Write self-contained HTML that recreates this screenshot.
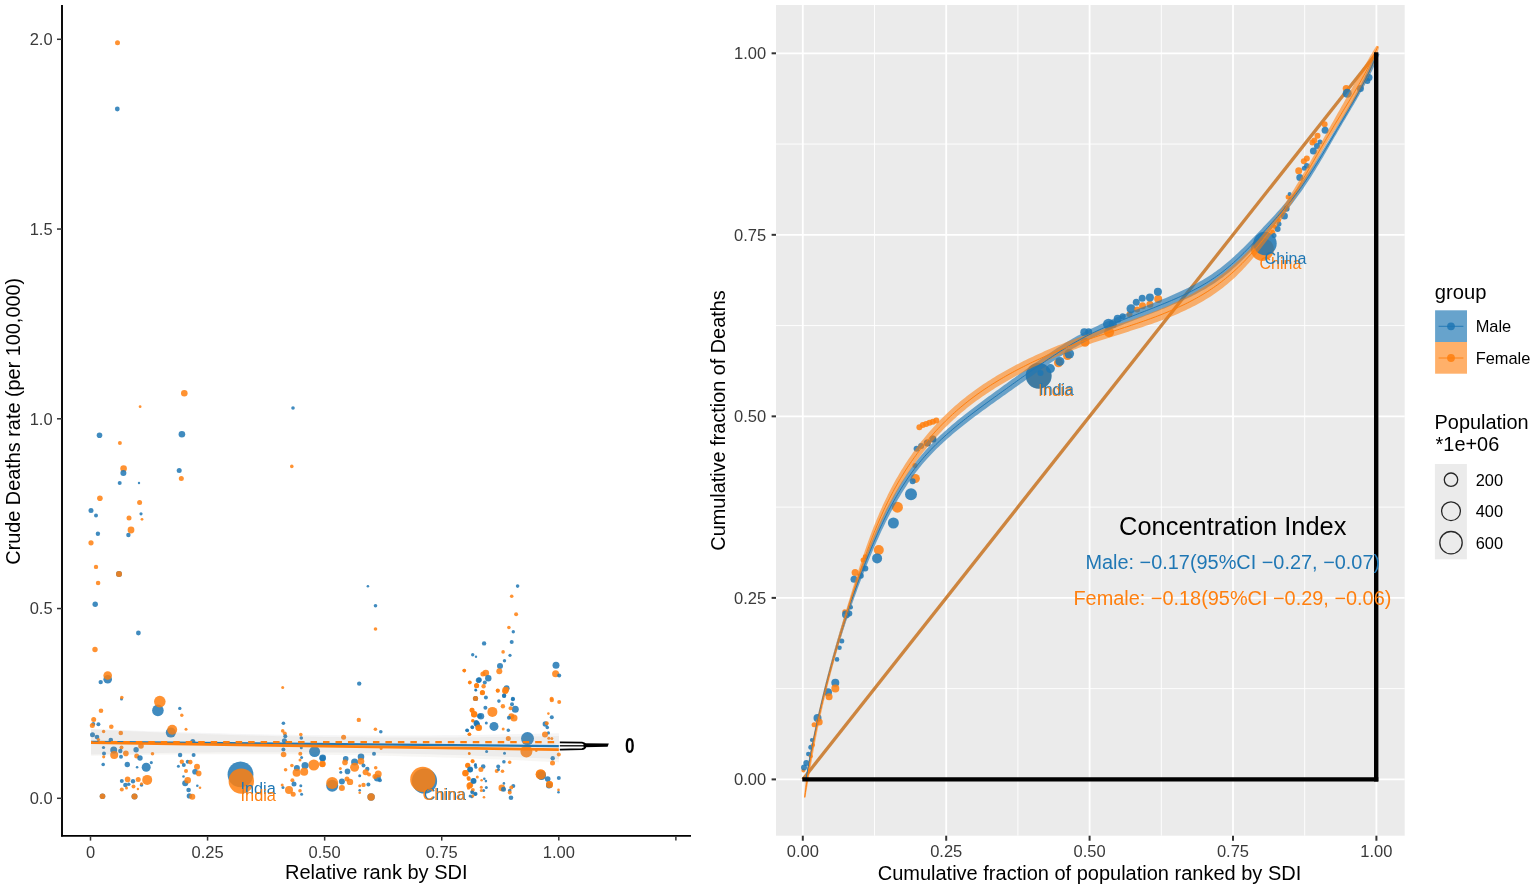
<!DOCTYPE html>
<html><head><meta charset="utf-8"><title>Concentration Index Plot</title>
<style>html,body{margin:0;padding:0;background:#fff;} svg{display:block;}</style>
</head><body>
<svg width="1535" height="889" viewBox="0 0 1535 889">
<rect x="0" y="0" width="1535" height="889" fill="#ffffff"/>
<circle cx="117.5" cy="42.7" r="2.5" fill="#ff7f0e" fill-opacity="0.85"/>
<circle cx="117.3" cy="109" r="2.4" fill="#1f77b4" fill-opacity="0.85"/>
<circle cx="184.3" cy="393.2" r="3.3" fill="#ff7f0e" fill-opacity="0.85"/>
<circle cx="140.1" cy="406.7" r="1.4" fill="#ff7f0e" fill-opacity="0.85"/>
<circle cx="293" cy="408" r="1.8" fill="#1f77b4" fill-opacity="0.85"/>
<circle cx="99.5" cy="435.3" r="2.8" fill="#1f77b4" fill-opacity="0.85"/>
<circle cx="181.9" cy="434.3" r="3.3" fill="#1f77b4" fill-opacity="0.85"/>
<circle cx="119.9" cy="443" r="2" fill="#ff7f0e" fill-opacity="0.85"/>
<circle cx="123.6" cy="468.5" r="3.3" fill="#ff7f0e" fill-opacity="0.85"/>
<circle cx="123.4" cy="473.1" r="3" fill="#1f77b4" fill-opacity="0.85"/>
<circle cx="179.2" cy="470.5" r="2.5" fill="#1f77b4" fill-opacity="0.85"/>
<circle cx="181.3" cy="478.4" r="2.5" fill="#ff7f0e" fill-opacity="0.85"/>
<circle cx="119.7" cy="483" r="2" fill="#1f77b4" fill-opacity="0.85"/>
<circle cx="139" cy="483" r="1.2" fill="#1f77b4" fill-opacity="0.85"/>
<circle cx="291.8" cy="466.4" r="1.8" fill="#ff7f0e" fill-opacity="0.85"/>
<circle cx="99.9" cy="498.2" r="2.8" fill="#ff7f0e" fill-opacity="0.85"/>
<circle cx="139.6" cy="502.5" r="2.5" fill="#ff7f0e" fill-opacity="0.85"/>
<circle cx="91" cy="510.4" r="2.5" fill="#1f77b4" fill-opacity="0.85"/>
<circle cx="96" cy="515.4" r="2" fill="#1f77b4" fill-opacity="0.85"/>
<circle cx="141" cy="513.8" r="1.6" fill="#1f77b4" fill-opacity="0.85"/>
<circle cx="129" cy="517.9" r="2.5" fill="#ff7f0e" fill-opacity="0.85"/>
<circle cx="142" cy="519.3" r="1.4" fill="#ff7f0e" fill-opacity="0.85"/>
<circle cx="128.4" cy="535" r="2.2" fill="#1f77b4" fill-opacity="0.85"/>
<circle cx="131" cy="530" r="3.4" fill="#ff7f0e" fill-opacity="0.85"/>
<circle cx="97.9" cy="533.8" r="2.2" fill="#1f77b4" fill-opacity="0.85"/>
<circle cx="91" cy="542.8" r="2.6" fill="#ff7f0e" fill-opacity="0.85"/>
<circle cx="96" cy="566.9" r="2.2" fill="#ff7f0e" fill-opacity="0.85"/>
<circle cx="119" cy="573.9" r="3" fill="#1f77b4" fill-opacity="0.85"/>
<circle cx="119" cy="573.9" r="3" fill="#ff7f0e" fill-opacity="0.85"/>
<circle cx="98.1" cy="583" r="2.3" fill="#ff7f0e" fill-opacity="0.85"/>
<circle cx="95.2" cy="604.2" r="2.7" fill="#1f77b4" fill-opacity="0.85"/>
<circle cx="138.4" cy="633" r="2.4" fill="#1f77b4" fill-opacity="0.85"/>
<circle cx="95" cy="649.5" r="2.7" fill="#ff7f0e" fill-opacity="0.85"/>
<circle cx="107.7" cy="679.2" r="4.3" fill="#1f77b4" fill-opacity="0.85"/>
<circle cx="107.7" cy="675.5" r="4.3" fill="#ff7f0e" fill-opacity="0.85"/>
<circle cx="100.7" cy="682.1" r="2.2" fill="#1f77b4" fill-opacity="0.85"/>
<circle cx="367.9" cy="586.2" r="1.3" fill="#1f77b4" fill-opacity="0.85"/>
<circle cx="375.5" cy="605.7" r="1.8" fill="#1f77b4" fill-opacity="0.85"/>
<circle cx="375.5" cy="629" r="1.8" fill="#ff7f0e" fill-opacity="0.85"/>
<circle cx="121.5" cy="699" r="1.5" fill="#1f77b4" fill-opacity="0.85"/>
<circle cx="121.8" cy="697.5" r="1.8" fill="#ff7f0e" fill-opacity="0.85"/>
<circle cx="157.9" cy="710.4" r="5.8" fill="#1f77b4" fill-opacity="0.85"/>
<circle cx="159.8" cy="701.6" r="5.8" fill="#ff7f0e" fill-opacity="0.85"/>
<circle cx="101" cy="710.7" r="2.3" fill="#ff7f0e" fill-opacity="0.85"/>
<circle cx="93.7" cy="719.5" r="2.5" fill="#ff7f0e" fill-opacity="0.85"/>
<circle cx="93.3" cy="723.9" r="2" fill="#1f77b4" fill-opacity="0.85"/>
<circle cx="92.3" cy="725.6" r="2.5" fill="#ff7f0e" fill-opacity="0.85"/>
<circle cx="98.4" cy="724.3" r="2" fill="#1f77b4" fill-opacity="0.85"/>
<circle cx="111.3" cy="726.8" r="2.3" fill="#ff7f0e" fill-opacity="0.85"/>
<circle cx="103.6" cy="731.5" r="1.7" fill="#ff7f0e" fill-opacity="0.85"/>
<circle cx="120.8" cy="733" r="2.3" fill="#ff7f0e" fill-opacity="0.85"/>
<circle cx="170.8" cy="732.6" r="5" fill="#1f77b4" fill-opacity="0.85"/>
<circle cx="172.2" cy="729.7" r="5" fill="#ff7f0e" fill-opacity="0.85"/>
<circle cx="92.5" cy="734.8" r="2.5" fill="#1f77b4" fill-opacity="0.85"/>
<circle cx="97" cy="737" r="2.3" fill="#1f77b4" fill-opacity="0.85"/>
<circle cx="98.4" cy="739.6" r="1.7" fill="#ff7f0e" fill-opacity="0.85"/>
<circle cx="110.8" cy="740" r="2.3" fill="#1f77b4" fill-opacity="0.85"/>
<circle cx="141" cy="746" r="2.8" fill="#ff7f0e" fill-opacity="0.85"/>
<circle cx="103.5" cy="747.5" r="1.6" fill="#1f77b4" fill-opacity="0.85"/>
<circle cx="113.7" cy="749.9" r="3.5" fill="#1f77b4" fill-opacity="0.85"/>
<circle cx="114.2" cy="754.9" r="4" fill="#ff7f0e" fill-opacity="0.85"/>
<circle cx="121.5" cy="747.5" r="2" fill="#ff7f0e" fill-opacity="0.85"/>
<circle cx="120.3" cy="751" r="2.2" fill="#1f77b4" fill-opacity="0.85"/>
<circle cx="125.9" cy="753.4" r="2.8" fill="#ff7f0e" fill-opacity="0.85"/>
<circle cx="136.1" cy="749.7" r="2.7" fill="#1f77b4" fill-opacity="0.85"/>
<circle cx="104" cy="753.4" r="2" fill="#1f77b4" fill-opacity="0.85"/>
<circle cx="103.7" cy="756.8" r="1.6" fill="#ff7f0e" fill-opacity="0.85"/>
<circle cx="152.5" cy="753.8" r="1.8" fill="#ff7f0e" fill-opacity="0.85"/>
<circle cx="136.7" cy="756" r="2.5" fill="#ff7f0e" fill-opacity="0.85"/>
<circle cx="140" cy="758" r="2.7" fill="#1f77b4" fill-opacity="0.85"/>
<circle cx="121" cy="756.8" r="2" fill="#1f77b4" fill-opacity="0.85"/>
<circle cx="103.2" cy="764.5" r="1.8" fill="#1f77b4" fill-opacity="0.85"/>
<circle cx="127.3" cy="764.5" r="2.7" fill="#1f77b4" fill-opacity="0.85"/>
<circle cx="137.1" cy="767.3" r="1.3" fill="#1f77b4" fill-opacity="0.85"/>
<circle cx="146.2" cy="767.3" r="4.5" fill="#1f77b4" fill-opacity="0.85"/>
<circle cx="151.3" cy="762.6" r="1.6" fill="#1f77b4" fill-opacity="0.85"/>
<circle cx="147.2" cy="779.9" r="5" fill="#ff7f0e" fill-opacity="0.85"/>
<circle cx="127.6" cy="779.4" r="2.8" fill="#ff7f0e" fill-opacity="0.85"/>
<circle cx="121.8" cy="780.9" r="2" fill="#1f77b4" fill-opacity="0.85"/>
<circle cx="133" cy="781.3" r="2.2" fill="#1f77b4" fill-opacity="0.85"/>
<circle cx="138.2" cy="779.4" r="2.5" fill="#ff7f0e" fill-opacity="0.85"/>
<circle cx="125.4" cy="785" r="2.3" fill="#1f77b4" fill-opacity="0.85"/>
<circle cx="128.8" cy="784.2" r="1.7" fill="#1f77b4" fill-opacity="0.85"/>
<circle cx="133.5" cy="786.4" r="2" fill="#ff7f0e" fill-opacity="0.85"/>
<circle cx="141.5" cy="785" r="1.8" fill="#1f77b4" fill-opacity="0.85"/>
<circle cx="141.5" cy="783.8" r="1.5" fill="#ff7f0e" fill-opacity="0.85"/>
<circle cx="121.8" cy="789.4" r="2" fill="#ff7f0e" fill-opacity="0.85"/>
<circle cx="126.5" cy="787.9" r="1.5" fill="#ff7f0e" fill-opacity="0.85"/>
<circle cx="137.9" cy="789" r="1.2" fill="#ff7f0e" fill-opacity="0.85"/>
<circle cx="102.5" cy="796.2" r="2.8" fill="#1f77b4" fill-opacity="0.85"/>
<circle cx="102.5" cy="796.2" r="2.8" fill="#ff7f0e" fill-opacity="0.85"/>
<circle cx="134.5" cy="796.5" r="3" fill="#1f77b4" fill-opacity="0.85"/>
<circle cx="134.5" cy="796.5" r="3" fill="#ff7f0e" fill-opacity="0.85"/>
<circle cx="179.8" cy="708.4" r="1.7" fill="#1f77b4" fill-opacity="0.85"/>
<circle cx="181.8" cy="715.2" r="1.7" fill="#ff7f0e" fill-opacity="0.85"/>
<circle cx="186" cy="729.2" r="1.5" fill="#ff7f0e" fill-opacity="0.85"/>
<circle cx="192.8" cy="741.5" r="2.5" fill="#1f77b4" fill-opacity="0.85"/>
<circle cx="180.1" cy="755" r="2.2" fill="#1f77b4" fill-opacity="0.85"/>
<circle cx="193.6" cy="754.9" r="2" fill="#1f77b4" fill-opacity="0.85"/>
<circle cx="181.8" cy="761.8" r="2.2" fill="#ff7f0e" fill-opacity="0.85"/>
<circle cx="183.8" cy="765" r="2" fill="#1f77b4" fill-opacity="0.85"/>
<circle cx="187.7" cy="761.8" r="2" fill="#1f77b4" fill-opacity="0.85"/>
<circle cx="190.3" cy="762.1" r="2.3" fill="#ff7f0e" fill-opacity="0.85"/>
<circle cx="178.4" cy="766.3" r="1.5" fill="#1f77b4" fill-opacity="0.85"/>
<circle cx="197" cy="766.8" r="3" fill="#ff7f0e" fill-opacity="0.85"/>
<circle cx="186" cy="770.9" r="2" fill="#ff7f0e" fill-opacity="0.85"/>
<circle cx="195" cy="771.7" r="2.8" fill="#1f77b4" fill-opacity="0.85"/>
<circle cx="198.7" cy="773.4" r="2.8" fill="#ff7f0e" fill-opacity="0.85"/>
<circle cx="183.5" cy="776.5" r="1.3" fill="#1f77b4" fill-opacity="0.85"/>
<circle cx="185.2" cy="783.2" r="3" fill="#1f77b4" fill-opacity="0.85"/>
<circle cx="187.7" cy="780.2" r="3.3" fill="#ff7f0e" fill-opacity="0.85"/>
<circle cx="197.3" cy="785.7" r="1.3" fill="#1f77b4" fill-opacity="0.85"/>
<circle cx="200" cy="787.8" r="1.3" fill="#ff7f0e" fill-opacity="0.85"/>
<circle cx="188.6" cy="790" r="2.3" fill="#1f77b4" fill-opacity="0.85"/>
<circle cx="189.4" cy="795.9" r="2.7" fill="#1f77b4" fill-opacity="0.85"/>
<circle cx="192.3" cy="796.7" r="3" fill="#ff7f0e" fill-opacity="0.85"/>
<circle cx="240.5" cy="774.4" r="12.9" fill="#1f77b4" fill-opacity="0.85"/>
<circle cx="241.3" cy="781.1" r="12.7" fill="#ff7f0e" fill-opacity="0.85"/>
<circle cx="282.7" cy="687.5" r="1.5" fill="#ff7f0e" fill-opacity="0.85"/>
<circle cx="283.4" cy="723.3" r="1.8" fill="#1f77b4" fill-opacity="0.85"/>
<circle cx="282.7" cy="730.9" r="1.8" fill="#ff7f0e" fill-opacity="0.85"/>
<circle cx="284.8" cy="733.4" r="2" fill="#ff7f0e" fill-opacity="0.85"/>
<circle cx="285.3" cy="736.3" r="2" fill="#1f77b4" fill-opacity="0.85"/>
<circle cx="284.4" cy="740.7" r="2.5" fill="#1f77b4" fill-opacity="0.85"/>
<circle cx="300.8" cy="734.6" r="1.8" fill="#ff7f0e" fill-opacity="0.85"/>
<circle cx="301.3" cy="738" r="1.8" fill="#1f77b4" fill-opacity="0.85"/>
<circle cx="283.4" cy="749.5" r="2" fill="#1f77b4" fill-opacity="0.85"/>
<circle cx="283.6" cy="754.5" r="2.8" fill="#ff7f0e" fill-opacity="0.85"/>
<circle cx="301.3" cy="747.8" r="1.5" fill="#1f77b4" fill-opacity="0.85"/>
<circle cx="300.3" cy="753.7" r="2" fill="#ff7f0e" fill-opacity="0.85"/>
<circle cx="301.6" cy="757.6" r="1.5" fill="#1f77b4" fill-opacity="0.85"/>
<circle cx="300" cy="760" r="1.5" fill="#ff7f0e" fill-opacity="0.85"/>
<circle cx="314.6" cy="751.6" r="5.5" fill="#1f77b4" fill-opacity="0.85"/>
<circle cx="322.7" cy="757.9" r="3.3" fill="#1f77b4" fill-opacity="0.85"/>
<circle cx="313.8" cy="765" r="5.5" fill="#ff7f0e" fill-opacity="0.85"/>
<circle cx="322.4" cy="763.8" r="3.2" fill="#ff7f0e" fill-opacity="0.85"/>
<circle cx="285.6" cy="769.7" r="1.8" fill="#ff7f0e" fill-opacity="0.85"/>
<circle cx="291.9" cy="765.5" r="1.8" fill="#ff7f0e" fill-opacity="0.85"/>
<circle cx="296.9" cy="768" r="3" fill="#1f77b4" fill-opacity="0.85"/>
<circle cx="305" cy="765.5" r="3.5" fill="#1f77b4" fill-opacity="0.85"/>
<circle cx="296.6" cy="772.7" r="4" fill="#ff7f0e" fill-opacity="0.85"/>
<circle cx="304.2" cy="771.7" r="4" fill="#ff7f0e" fill-opacity="0.85"/>
<circle cx="292.4" cy="780.2" r="2" fill="#ff7f0e" fill-opacity="0.85"/>
<circle cx="294" cy="784" r="2.5" fill="#1f77b4" fill-opacity="0.85"/>
<circle cx="289" cy="790" r="4" fill="#ff7f0e" fill-opacity="0.85"/>
<circle cx="293.2" cy="794.2" r="2.5" fill="#ff7f0e" fill-opacity="0.85"/>
<circle cx="283" cy="787.4" r="1.5" fill="#1f77b4" fill-opacity="0.85"/>
<circle cx="282.2" cy="784.9" r="1.5" fill="#ff7f0e" fill-opacity="0.85"/>
<circle cx="300.8" cy="785.7" r="1.5" fill="#1f77b4" fill-opacity="0.85"/>
<circle cx="300" cy="790.8" r="1.8" fill="#ff7f0e" fill-opacity="0.85"/>
<circle cx="301.6" cy="794.2" r="1.5" fill="#1f77b4" fill-opacity="0.85"/>
<circle cx="359.2" cy="683.6" r="2.2" fill="#1f77b4" fill-opacity="0.85"/>
<circle cx="358.8" cy="719.9" r="2.2" fill="#ff7f0e" fill-opacity="0.85"/>
<circle cx="375.4" cy="729.2" r="1.8" fill="#ff7f0e" fill-opacity="0.85"/>
<circle cx="380.8" cy="731.7" r="1.8" fill="#1f77b4" fill-opacity="0.85"/>
<circle cx="343.6" cy="737.3" r="2.5" fill="#ff7f0e" fill-opacity="0.85"/>
<circle cx="381.1" cy="748.6" r="1.5" fill="#ff7f0e" fill-opacity="0.85"/>
<circle cx="374" cy="753.7" r="2" fill="#1f77b4" fill-opacity="0.85"/>
<circle cx="322.5" cy="758.2" r="3" fill="#1f77b4" fill-opacity="0.85"/>
<circle cx="322.5" cy="764.3" r="3" fill="#ff7f0e" fill-opacity="0.85"/>
<circle cx="345.7" cy="758.7" r="2.8" fill="#1f77b4" fill-opacity="0.85"/>
<circle cx="345" cy="762.4" r="2.8" fill="#ff7f0e" fill-opacity="0.85"/>
<circle cx="354.6" cy="762.1" r="3.5" fill="#1f77b4" fill-opacity="0.85"/>
<circle cx="354.6" cy="767.2" r="4.5" fill="#ff7f0e" fill-opacity="0.85"/>
<circle cx="361" cy="756.7" r="3.3" fill="#1f77b4" fill-opacity="0.85"/>
<circle cx="361" cy="761.3" r="3.3" fill="#ff7f0e" fill-opacity="0.85"/>
<circle cx="363.5" cy="765.5" r="2" fill="#1f77b4" fill-opacity="0.85"/>
<circle cx="367.3" cy="768.9" r="2.2" fill="#1f77b4" fill-opacity="0.85"/>
<circle cx="365.6" cy="772.2" r="3" fill="#ff7f0e" fill-opacity="0.85"/>
<circle cx="369" cy="774.4" r="2" fill="#ff7f0e" fill-opacity="0.85"/>
<circle cx="375.7" cy="767.7" r="1.8" fill="#ff7f0e" fill-opacity="0.85"/>
<circle cx="347.5" cy="771.4" r="2.8" fill="#1f77b4" fill-opacity="0.85"/>
<circle cx="340.3" cy="768.4" r="1.5" fill="#ff7f0e" fill-opacity="0.85"/>
<circle cx="340.8" cy="772.2" r="1.5" fill="#1f77b4" fill-opacity="0.85"/>
<circle cx="377.4" cy="778.1" r="3.5" fill="#1f77b4" fill-opacity="0.85"/>
<circle cx="378.2" cy="773.9" r="3.5" fill="#ff7f0e" fill-opacity="0.85"/>
<circle cx="374.9" cy="776.5" r="2.5" fill="#ff7f0e" fill-opacity="0.85"/>
<circle cx="379.9" cy="780.2" r="2" fill="#1f77b4" fill-opacity="0.85"/>
<circle cx="359.7" cy="775.8" r="1.5" fill="#1f77b4" fill-opacity="0.85"/>
<circle cx="332.2" cy="785.7" r="6" fill="#1f77b4" fill-opacity="0.85"/>
<circle cx="332.2" cy="782.9" r="6" fill="#ff7f0e" fill-opacity="0.85"/>
<circle cx="341.9" cy="781.5" r="3" fill="#1f77b4" fill-opacity="0.85"/>
<circle cx="347" cy="779" r="2.5" fill="#ff7f0e" fill-opacity="0.85"/>
<circle cx="350" cy="781.9" r="3.2" fill="#ff7f0e" fill-opacity="0.85"/>
<circle cx="341.9" cy="787.9" r="3" fill="#ff7f0e" fill-opacity="0.85"/>
<circle cx="363.5" cy="784.9" r="2.2" fill="#ff7f0e" fill-opacity="0.85"/>
<circle cx="359.7" cy="785.7" r="1.5" fill="#ff7f0e" fill-opacity="0.85"/>
<circle cx="368.4" cy="784.6" r="2" fill="#1f77b4" fill-opacity="0.85"/>
<circle cx="359.7" cy="790.3" r="1.3" fill="#1f77b4" fill-opacity="0.85"/>
<circle cx="359.7" cy="792.8" r="1.3" fill="#ff7f0e" fill-opacity="0.85"/>
<circle cx="371.1" cy="797" r="3.7" fill="#1f77b4" fill-opacity="0.85"/>
<circle cx="371.1" cy="797" r="3.7" fill="#ff7f0e" fill-opacity="0.85"/>
<circle cx="424.5" cy="781" r="12.6" fill="#1f77b4" fill-opacity="0.85"/>
<circle cx="422.8" cy="779.4" r="12.6" fill="#ff7f0e" fill-opacity="0.85"/>
<circle cx="464.3" cy="670.6" r="1.8" fill="#ff7f0e" fill-opacity="0.85"/>
<circle cx="469.9" cy="682.4" r="1.8" fill="#ff7f0e" fill-opacity="0.85"/>
<circle cx="478.6" cy="680.3" r="2.8" fill="#1f77b4" fill-opacity="0.85"/>
<circle cx="476.6" cy="685.7" r="2.5" fill="#ff7f0e" fill-opacity="0.85"/>
<circle cx="475.6" cy="689.9" r="1.3" fill="#1f77b4" fill-opacity="0.85"/>
<circle cx="475.3" cy="698.5" r="2.5" fill="#ff7f0e" fill-opacity="0.85"/>
<circle cx="471.9" cy="710.1" r="2.3" fill="#ff7f0e" fill-opacity="0.85"/>
<circle cx="474.1" cy="714.3" r="3" fill="#ff7f0e" fill-opacity="0.85"/>
<circle cx="479.5" cy="716" r="2.5" fill="#1f77b4" fill-opacity="0.85"/>
<circle cx="472.9" cy="720.8" r="1.5" fill="#ff7f0e" fill-opacity="0.85"/>
<circle cx="476.6" cy="723.8" r="3" fill="#1f77b4" fill-opacity="0.85"/>
<circle cx="478.3" cy="727.8" r="3" fill="#ff7f0e" fill-opacity="0.85"/>
<circle cx="472.4" cy="727.5" r="1.8" fill="#1f77b4" fill-opacity="0.85"/>
<circle cx="467.3" cy="730.5" r="1.8" fill="#1f77b4" fill-opacity="0.85"/>
<circle cx="469.4" cy="734.3" r="1.8" fill="#ff7f0e" fill-opacity="0.85"/>
<circle cx="469.4" cy="753.7" r="1.2" fill="#ff7f0e" fill-opacity="0.85"/>
<circle cx="472.7" cy="761.3" r="2" fill="#ff7f0e" fill-opacity="0.85"/>
<circle cx="475.3" cy="765.5" r="1.5" fill="#1f77b4" fill-opacity="0.85"/>
<circle cx="467.7" cy="765.5" r="2.5" fill="#ff7f0e" fill-opacity="0.85"/>
<circle cx="470.2" cy="769.7" r="2.5" fill="#1f77b4" fill-opacity="0.85"/>
<circle cx="465.5" cy="773.1" r="3" fill="#ff7f0e" fill-opacity="0.85"/>
<circle cx="468.5" cy="778.1" r="2" fill="#ff7f0e" fill-opacity="0.85"/>
<circle cx="473.6" cy="780.7" r="2.5" fill="#1f77b4" fill-opacity="0.85"/>
<circle cx="470.2" cy="784.9" r="3" fill="#ff7f0e" fill-opacity="0.85"/>
<circle cx="468.5" cy="788.3" r="1.5" fill="#ff7f0e" fill-opacity="0.85"/>
<circle cx="471.9" cy="791.6" r="1.5" fill="#1f77b4" fill-opacity="0.85"/>
<circle cx="475.3" cy="794.2" r="1.8" fill="#1f77b4" fill-opacity="0.85"/>
<circle cx="471.9" cy="796.7" r="1.5" fill="#1f77b4" fill-opacity="0.85"/>
<circle cx="517.6" cy="586.1" r="1.8" fill="#1f77b4" fill-opacity="0.85"/>
<circle cx="511.7" cy="596.3" r="1.8" fill="#ff7f0e" fill-opacity="0.85"/>
<circle cx="516.1" cy="614.2" r="2" fill="#ff7f0e" fill-opacity="0.85"/>
<circle cx="508.9" cy="627.5" r="1.8" fill="#ff7f0e" fill-opacity="0.85"/>
<circle cx="513.3" cy="631.7" r="1.7" fill="#1f77b4" fill-opacity="0.85"/>
<circle cx="484.1" cy="643.4" r="2.2" fill="#1f77b4" fill-opacity="0.85"/>
<circle cx="511.7" cy="642" r="2" fill="#1f77b4" fill-opacity="0.85"/>
<circle cx="503.1" cy="651.9" r="1.8" fill="#ff7f0e" fill-opacity="0.85"/>
<circle cx="510" cy="655.3" r="1.6" fill="#1f77b4" fill-opacity="0.85"/>
<circle cx="472.7" cy="654.8" r="1.7" fill="#1f77b4" fill-opacity="0.85"/>
<circle cx="476" cy="656.7" r="1.2" fill="#1f77b4" fill-opacity="0.85"/>
<circle cx="504.5" cy="660.7" r="1.7" fill="#1f77b4" fill-opacity="0.85"/>
<circle cx="500" cy="665.9" r="3" fill="#1f77b4" fill-opacity="0.85"/>
<circle cx="499.3" cy="671.2" r="3" fill="#ff7f0e" fill-opacity="0.85"/>
<circle cx="464.2" cy="670.6" r="1.8" fill="#ff7f0e" fill-opacity="0.85"/>
<circle cx="485.8" cy="673.1" r="3.3" fill="#ff7f0e" fill-opacity="0.85"/>
<circle cx="482.9" cy="674.1" r="2.5" fill="#ff7f0e" fill-opacity="0.85"/>
<circle cx="488.3" cy="678.2" r="3.2" fill="#1f77b4" fill-opacity="0.85"/>
<circle cx="479.2" cy="679.7" r="2.5" fill="#1f77b4" fill-opacity="0.85"/>
<circle cx="484.8" cy="682.6" r="2" fill="#1f77b4" fill-opacity="0.85"/>
<circle cx="469.7" cy="682.6" r="1.8" fill="#ff7f0e" fill-opacity="0.85"/>
<circle cx="476.6" cy="685.5" r="2.5" fill="#ff7f0e" fill-opacity="0.85"/>
<circle cx="483.6" cy="686.3" r="2.2" fill="#ff7f0e" fill-opacity="0.85"/>
<circle cx="475.9" cy="690.2" r="1.3" fill="#1f77b4" fill-opacity="0.85"/>
<circle cx="482.5" cy="692.5" r="2.5" fill="#ff7f0e" fill-opacity="0.85"/>
<circle cx="506.6" cy="688.2" r="3" fill="#1f77b4" fill-opacity="0.85"/>
<circle cx="505.6" cy="690" r="3.3" fill="#ff7f0e" fill-opacity="0.85"/>
<circle cx="497.7" cy="690.6" r="2" fill="#ff7f0e" fill-opacity="0.85"/>
<circle cx="504.1" cy="695.8" r="2" fill="#1f77b4" fill-opacity="0.85"/>
<circle cx="556" cy="665.3" r="3.5" fill="#1f77b4" fill-opacity="0.85"/>
<circle cx="555.6" cy="673.8" r="3.5" fill="#ff7f0e" fill-opacity="0.85"/>
<circle cx="559.2" cy="675.6" r="2" fill="#1f77b4" fill-opacity="0.85"/>
<circle cx="475.6" cy="698.4" r="2.5" fill="#1f77b4" fill-opacity="0.85"/>
<circle cx="475.6" cy="698.4" r="2.5" fill="#ff7f0e" fill-opacity="0.85"/>
<circle cx="485.9" cy="697.4" r="2" fill="#1f77b4" fill-opacity="0.85"/>
<circle cx="497.8" cy="690.7" r="2" fill="#ff7f0e" fill-opacity="0.85"/>
<circle cx="512.9" cy="698.7" r="2" fill="#1f77b4" fill-opacity="0.85"/>
<circle cx="551.6" cy="698.7" r="2" fill="#ff7f0e" fill-opacity="0.85"/>
<circle cx="482.3" cy="692.7" r="2.5" fill="#ff7f0e" fill-opacity="0.85"/>
<circle cx="505.2" cy="691.3" r="3" fill="#ff7f0e" fill-opacity="0.85"/>
<circle cx="504.1" cy="695.7" r="2.2" fill="#1f77b4" fill-opacity="0.85"/>
<circle cx="498.9" cy="701.1" r="1.8" fill="#1f77b4" fill-opacity="0.85"/>
<circle cx="512.9" cy="699.2" r="2" fill="#1f77b4" fill-opacity="0.85"/>
<circle cx="512" cy="704.2" r="2" fill="#1f77b4" fill-opacity="0.85"/>
<circle cx="502.9" cy="706.2" r="2.2" fill="#ff7f0e" fill-opacity="0.85"/>
<circle cx="515.3" cy="709.3" r="3.5" fill="#1f77b4" fill-opacity="0.85"/>
<circle cx="510.6" cy="708.2" r="2" fill="#ff7f0e" fill-opacity="0.85"/>
<circle cx="485.4" cy="707.8" r="2" fill="#1f77b4" fill-opacity="0.85"/>
<circle cx="492.4" cy="711.9" r="5" fill="#ff7f0e" fill-opacity="0.85"/>
<circle cx="472.1" cy="710.2" r="2.5" fill="#ff7f0e" fill-opacity="0.85"/>
<circle cx="474.2" cy="714.3" r="3.2" fill="#ff7f0e" fill-opacity="0.85"/>
<circle cx="480.9" cy="716.3" r="3.3" fill="#1f77b4" fill-opacity="0.85"/>
<circle cx="511.3" cy="716.3" r="3" fill="#ff7f0e" fill-opacity="0.85"/>
<circle cx="514" cy="718.1" r="3.5" fill="#ff7f0e" fill-opacity="0.85"/>
<circle cx="508.9" cy="717.7" r="2" fill="#1f77b4" fill-opacity="0.85"/>
<circle cx="472.8" cy="720.8" r="1.8" fill="#ff7f0e" fill-opacity="0.85"/>
<circle cx="476.2" cy="722.4" r="2.5" fill="#1f77b4" fill-opacity="0.85"/>
<circle cx="477.5" cy="724.4" r="2.5" fill="#1f77b4" fill-opacity="0.85"/>
<circle cx="478.9" cy="727.8" r="3.2" fill="#ff7f0e" fill-opacity="0.85"/>
<circle cx="486.3" cy="723.1" r="1.5" fill="#1f77b4" fill-opacity="0.85"/>
<circle cx="494" cy="726.4" r="4.5" fill="#1f77b4" fill-opacity="0.85"/>
<circle cx="472.1" cy="727.1" r="1.8" fill="#1f77b4" fill-opacity="0.85"/>
<circle cx="467" cy="730.2" r="1.8" fill="#1f77b4" fill-opacity="0.85"/>
<circle cx="469.4" cy="734.3" r="1.8" fill="#ff7f0e" fill-opacity="0.85"/>
<circle cx="503.2" cy="729.1" r="1.5" fill="#ff7f0e" fill-opacity="0.85"/>
<circle cx="508.3" cy="730.2" r="1.8" fill="#1f77b4" fill-opacity="0.85"/>
<circle cx="508.3" cy="738.6" r="2.5" fill="#ff7f0e" fill-opacity="0.85"/>
<circle cx="527.5" cy="738.6" r="6.5" fill="#1f77b4" fill-opacity="0.85"/>
<circle cx="526.4" cy="751.4" r="6" fill="#ff7f0e" fill-opacity="0.85"/>
<circle cx="551.8" cy="700.1" r="2.2" fill="#ff7f0e" fill-opacity="0.85"/>
<circle cx="559.2" cy="702.1" r="2" fill="#ff7f0e" fill-opacity="0.85"/>
<circle cx="548.4" cy="713.6" r="1.3" fill="#ff7f0e" fill-opacity="0.85"/>
<circle cx="551.8" cy="717.3" r="2" fill="#1f77b4" fill-opacity="0.85"/>
<circle cx="545.3" cy="724" r="2.7" fill="#1f77b4" fill-opacity="0.85"/>
<circle cx="546.8" cy="723.3" r="2" fill="#ff7f0e" fill-opacity="0.85"/>
<circle cx="547.3" cy="727.5" r="1.8" fill="#1f77b4" fill-opacity="0.85"/>
<circle cx="548.4" cy="732.9" r="1.6" fill="#1f77b4" fill-opacity="0.85"/>
<circle cx="545" cy="734.5" r="3" fill="#ff7f0e" fill-opacity="0.85"/>
<circle cx="548.8" cy="738.3" r="1.5" fill="#ff7f0e" fill-opacity="0.85"/>
<circle cx="551.8" cy="738.6" r="1.5" fill="#ff7f0e" fill-opacity="0.85"/>
<circle cx="469.2" cy="753.4" r="1.3" fill="#ff7f0e" fill-opacity="0.85"/>
<circle cx="486.6" cy="751.4" r="1.5" fill="#1f77b4" fill-opacity="0.85"/>
<circle cx="504.5" cy="753.2" r="1.5" fill="#1f77b4" fill-opacity="0.85"/>
<circle cx="536.3" cy="750.7" r="1.3" fill="#ff7f0e" fill-opacity="0.85"/>
<circle cx="558.8" cy="754.5" r="2" fill="#ff7f0e" fill-opacity="0.85"/>
<circle cx="552.7" cy="758.2" r="2.2" fill="#1f77b4" fill-opacity="0.85"/>
<circle cx="552.5" cy="762.9" r="2.5" fill="#ff7f0e" fill-opacity="0.85"/>
<circle cx="503.9" cy="761.8" r="1.8" fill="#1f77b4" fill-opacity="0.85"/>
<circle cx="509.7" cy="762.2" r="1.8" fill="#ff7f0e" fill-opacity="0.85"/>
<circle cx="472.4" cy="761.1" r="1.8" fill="#ff7f0e" fill-opacity="0.85"/>
<circle cx="467.7" cy="765.3" r="2.5" fill="#ff7f0e" fill-opacity="0.85"/>
<circle cx="470.1" cy="769.6" r="3" fill="#1f77b4" fill-opacity="0.85"/>
<circle cx="465.4" cy="773.3" r="3.2" fill="#ff7f0e" fill-opacity="0.85"/>
<circle cx="475.5" cy="764.5" r="1.5" fill="#1f77b4" fill-opacity="0.85"/>
<circle cx="475.9" cy="767.2" r="1.5" fill="#1f77b4" fill-opacity="0.85"/>
<circle cx="483.2" cy="766.5" r="2.3" fill="#1f77b4" fill-opacity="0.85"/>
<circle cx="480.9" cy="769.6" r="2.5" fill="#ff7f0e" fill-opacity="0.85"/>
<circle cx="498.2" cy="766.5" r="2" fill="#1f77b4" fill-opacity="0.85"/>
<circle cx="496.7" cy="771" r="2" fill="#ff7f0e" fill-opacity="0.85"/>
<circle cx="502.5" cy="771.3" r="1.8" fill="#ff7f0e" fill-opacity="0.85"/>
<circle cx="498.5" cy="769.6" r="1.5" fill="#1f77b4" fill-opacity="0.85"/>
<circle cx="540.7" cy="774.4" r="5" fill="#ff7f0e" fill-opacity="0.85"/>
<circle cx="547.7" cy="779.1" r="2.8" fill="#1f77b4" fill-opacity="0.85"/>
<circle cx="549.5" cy="784.5" r="3.5" fill="#ff7f0e" fill-opacity="0.85"/>
<circle cx="558.8" cy="778" r="2" fill="#1f77b4" fill-opacity="0.85"/>
<circle cx="558.5" cy="789.9" r="1.3" fill="#ff7f0e" fill-opacity="0.85"/>
<circle cx="558.5" cy="792.2" r="1.3" fill="#1f77b4" fill-opacity="0.85"/>
<circle cx="468.8" cy="779.1" r="2" fill="#ff7f0e" fill-opacity="0.85"/>
<circle cx="473.5" cy="781.1" r="3" fill="#1f77b4" fill-opacity="0.85"/>
<circle cx="477.3" cy="777.1" r="1.5" fill="#ff7f0e" fill-opacity="0.85"/>
<circle cx="481.6" cy="780.2" r="1.3" fill="#ff7f0e" fill-opacity="0.85"/>
<circle cx="484.3" cy="778.8" r="1.3" fill="#1f77b4" fill-opacity="0.85"/>
<circle cx="485.9" cy="781.1" r="1.3" fill="#1f77b4" fill-opacity="0.85"/>
<circle cx="469.4" cy="785.8" r="3" fill="#ff7f0e" fill-opacity="0.85"/>
<circle cx="472.8" cy="789.9" r="2" fill="#ff7f0e" fill-opacity="0.85"/>
<circle cx="472.4" cy="792.6" r="2" fill="#1f77b4" fill-opacity="0.85"/>
<circle cx="475.5" cy="793.7" r="2" fill="#1f77b4" fill-opacity="0.85"/>
<circle cx="472.8" cy="796" r="1.5" fill="#ff7f0e" fill-opacity="0.85"/>
<circle cx="470.1" cy="796" r="1.5" fill="#1f77b4" fill-opacity="0.85"/>
<circle cx="481.3" cy="787.2" r="1.5" fill="#ff7f0e" fill-opacity="0.85"/>
<circle cx="486.3" cy="787.5" r="1.5" fill="#1f77b4" fill-opacity="0.85"/>
<circle cx="483.6" cy="790.6" r="1.5" fill="#1f77b4" fill-opacity="0.85"/>
<circle cx="481.3" cy="790.6" r="1.5" fill="#ff7f0e" fill-opacity="0.85"/>
<circle cx="484" cy="797.3" r="1.3" fill="#ff7f0e" fill-opacity="0.85"/>
<circle cx="503.9" cy="783.4" r="1.3" fill="#1f77b4" fill-opacity="0.85"/>
<circle cx="501.8" cy="787.9" r="3.3" fill="#ff7f0e" fill-opacity="0.85"/>
<circle cx="503.5" cy="789.2" r="2.5" fill="#1f77b4" fill-opacity="0.85"/>
<circle cx="513.3" cy="786.1" r="2" fill="#1f77b4" fill-opacity="0.85"/>
<circle cx="511.3" cy="787.5" r="2" fill="#ff7f0e" fill-opacity="0.85"/>
<circle cx="509.7" cy="790.6" r="1.8" fill="#1f77b4" fill-opacity="0.85"/>
<circle cx="509.7" cy="792.6" r="2" fill="#ff7f0e" fill-opacity="0.85"/>
<circle cx="511" cy="797.7" r="2.3" fill="#1f77b4" fill-opacity="0.85"/>
<circle cx="541.5" cy="775.5" r="4.5" fill="#1f77b4" fill-opacity="0.85"/>
<circle cx="540.7" cy="774.4" r="5" fill="#ff7f0e" fill-opacity="0.85"/>
<circle cx="549" cy="785.5" r="3" fill="#1f77b4" fill-opacity="0.85"/>
<circle cx="549.5" cy="784.5" r="3.5" fill="#ff7f0e" fill-opacity="0.85"/>
<path d="M91,728.7 L102.7,729.23 L114.4,729.74 L126.1,730.23 L137.8,730.7 L149.5,731.14 L161.2,731.57 L172.9,731.97 L184.6,732.35 L196.3,732.71 L208,733.05 L219.7,733.37 L231.4,733.66 L243.1,733.94 L254.8,734.19 L266.5,734.42 L278.2,734.63 L289.9,734.82 L301.6,734.98 L313.3,735.13 L325,735.25 L336.7,735.35 L348.4,735.43 L360.1,735.49 L371.8,735.53 L383.5,735.54 L395.2,735.54 L406.9,735.51 L418.6,735.46 L430.3,735.39 L442,735.3 L453.7,735.19 L465.4,735.05 L477.1,734.9 L488.8,734.72 L500.5,734.52 L512.2,734.3 L523.9,734.06 L535.6,733.79 L547.3,733.51 L559,733.2 L559,759 L547.3,758.47 L535.6,757.96 L523.9,757.47 L512.2,757 L500.5,756.56 L488.8,756.13 L477.1,755.73 L465.4,755.35 L453.7,754.99 L442,754.65 L430.3,754.33 L418.6,754.04 L406.9,753.76 L395.2,753.51 L383.5,753.28 L371.8,753.07 L360.1,752.88 L348.4,752.72 L336.7,752.57 L325,752.45 L313.3,752.35 L301.6,752.27 L289.9,752.21 L278.2,752.17 L266.5,752.16 L254.8,752.16 L243.1,752.19 L231.4,752.24 L219.7,752.31 L208,752.4 L196.3,752.51 L184.6,752.65 L172.9,752.8 L161.2,752.98 L149.5,753.18 L137.8,753.4 L126.1,753.64 L114.4,753.91 L102.7,754.19 L91,754.5Z" fill="#7a8590" fill-opacity="0.08"/>
<path d="M91,729.4 L102.7,729.98 L114.4,730.54 L126.1,731.08 L137.8,731.6 L149.5,732.09 L161.2,732.57 L172.9,733.02 L184.6,733.45 L196.3,733.86 L208,734.25 L219.7,734.62 L231.4,734.96 L243.1,735.29 L254.8,735.59 L266.5,735.87 L278.2,736.13 L289.9,736.37 L301.6,736.58 L313.3,736.78 L325,736.95 L336.7,737.1 L348.4,737.23 L360.1,737.34 L371.8,737.43 L383.5,737.49 L395.2,737.54 L406.9,737.56 L418.6,737.56 L430.3,737.54 L442,737.5 L453.7,737.44 L465.4,737.35 L477.1,737.25 L488.8,737.12 L500.5,736.97 L512.2,736.8 L523.9,736.61 L535.6,736.39 L547.3,736.16 L559,735.9 L559,762.3 L547.3,761.72 L535.6,761.16 L523.9,760.62 L512.2,760.1 L500.5,759.61 L488.8,759.13 L477.1,758.68 L465.4,758.25 L453.7,757.84 L442,757.45 L430.3,757.08 L418.6,756.74 L406.9,756.41 L395.2,756.11 L383.5,755.83 L371.8,755.57 L360.1,755.33 L348.4,755.12 L336.7,754.92 L325,754.75 L313.3,754.6 L301.6,754.47 L289.9,754.36 L278.2,754.27 L266.5,754.21 L254.8,754.16 L243.1,754.14 L231.4,754.14 L219.7,754.16 L208,754.2 L196.3,754.26 L184.6,754.35 L172.9,754.45 L161.2,754.58 L149.5,754.73 L137.8,754.9 L126.1,755.09 L114.4,755.31 L102.7,755.54 L91,755.8Z" fill="#968676" fill-opacity="0.08"/>
<line x1="91" y1="741.9" x2="558.8" y2="746.1" stroke="#1f77b4" stroke-width="2.2"/>
<line x1="91" y1="742.7" x2="558.8" y2="749.6" stroke="#ff7f0e" stroke-width="2.6"/>
<line x1="91" y1="742.2" x2="558.8" y2="742.2" stroke="#ff7f0e" stroke-width="2.2" stroke-dasharray="6.5,5.98" stroke-dashoffset="5.11"/>
<text x="240.4" y="794" font-family="Liberation Sans, Arial, sans-serif" font-size="16.3" fill="#1f77b4">India</text>
<text x="240.6" y="801" font-family="Liberation Sans, Arial, sans-serif" font-size="16.3" fill="#ff7f0e">India</text>
<text x="423.8" y="800.3" font-family="Liberation Sans, Arial, sans-serif" font-size="16.2" fill="#1f77b4">China</text>
<text x="422.6" y="799.6" font-family="Liberation Sans, Arial, sans-serif" font-size="16.2" fill="#ff7f0e" fill-opacity="0.9">China</text>
<path d="M559.8,742.3 L582,742.6 Q585,743 585.5,745.2" fill="none" stroke="#000" stroke-width="1.7"/>
<path d="M559.8,749.6 L582,749.2 Q585,748.8 585.5,746.5" fill="none" stroke="#000" stroke-width="1.7"/>
<path d="M559.8,745.8 L584,745.8" stroke="#000" stroke-width="1.3"/>
<path d="M583.5,743.2 L608.8,743.5 L607.6,746.8 L583.5,747.3 Z" fill="#000"/>
<text x="629.8" y="753.2" font-family="Liberation Sans, Arial, sans-serif" font-size="21.5" font-weight="bold" fill="#000" text-anchor="middle" transform="translate(629.8,0) scale(0.8,1) translate(-629.8,0)">0</text>
<line x1="62" y1="5" x2="62" y2="836.6" stroke="#000" stroke-width="1.9"/>
<line x1="61.05" y1="835.8" x2="691" y2="835.8" stroke="#000" stroke-width="1.8"/>
<line x1="57" y1="798.3" x2="62" y2="798.3" stroke="#333" stroke-width="1.5"/>
<text x="52.6" y="804.2" font-family="Liberation Sans, Arial, sans-serif" font-size="16.5" fill="#3a3a3a" text-anchor="end">0.0</text>
<line x1="57" y1="608.55" x2="62" y2="608.55" stroke="#333" stroke-width="1.5"/>
<text x="52.6" y="614.45" font-family="Liberation Sans, Arial, sans-serif" font-size="16.5" fill="#3a3a3a" text-anchor="end">0.5</text>
<line x1="57" y1="418.8" x2="62" y2="418.8" stroke="#333" stroke-width="1.5"/>
<text x="52.6" y="424.7" font-family="Liberation Sans, Arial, sans-serif" font-size="16.5" fill="#3a3a3a" text-anchor="end">1.0</text>
<line x1="57" y1="229.05" x2="62" y2="229.05" stroke="#333" stroke-width="1.5"/>
<text x="52.6" y="234.95" font-family="Liberation Sans, Arial, sans-serif" font-size="16.5" fill="#3a3a3a" text-anchor="end">1.5</text>
<line x1="57" y1="39.3" x2="62" y2="39.3" stroke="#333" stroke-width="1.5"/>
<text x="52.6" y="45.2" font-family="Liberation Sans, Arial, sans-serif" font-size="16.5" fill="#3a3a3a" text-anchor="end">2.0</text>
<line x1="90.5" y1="836.6" x2="90.5" y2="840.6" stroke="#333" stroke-width="1.5"/>
<text x="90.5" y="857.8" font-family="Liberation Sans, Arial, sans-serif" font-size="16.5" fill="#3a3a3a" text-anchor="middle">0</text>
<line x1="207.57" y1="836.6" x2="207.57" y2="840.6" stroke="#333" stroke-width="1.5"/>
<text x="207.57" y="857.8" font-family="Liberation Sans, Arial, sans-serif" font-size="16.5" fill="#3a3a3a" text-anchor="middle">0.25</text>
<line x1="324.65" y1="836.6" x2="324.65" y2="840.6" stroke="#333" stroke-width="1.5"/>
<text x="324.65" y="857.8" font-family="Liberation Sans, Arial, sans-serif" font-size="16.5" fill="#3a3a3a" text-anchor="middle">0.50</text>
<line x1="441.73" y1="836.6" x2="441.73" y2="840.6" stroke="#333" stroke-width="1.5"/>
<text x="441.73" y="857.8" font-family="Liberation Sans, Arial, sans-serif" font-size="16.5" fill="#3a3a3a" text-anchor="middle">0.75</text>
<line x1="558.8" y1="836.6" x2="558.8" y2="840.6" stroke="#333" stroke-width="1.5"/>
<text x="558.8" y="857.8" font-family="Liberation Sans, Arial, sans-serif" font-size="16.5" fill="#3a3a3a" text-anchor="middle">1.00</text>
<line x1="675.88" y1="836.6" x2="675.88" y2="840.6" stroke="#333" stroke-width="1.5"/>
<text x="376.3" y="879.2" font-family="Liberation Sans, Arial, sans-serif" font-size="20.05" fill="#000" text-anchor="middle">Relative rank by SDI</text>
<text transform="translate(19.6,421.3) rotate(-90)" x="0" y="0" font-family="Liberation Sans, Arial, sans-serif" font-size="19.85" fill="#000" text-anchor="middle">Crude Deaths rate (per 100,000)</text>
<rect x="776" y="5" width="628.7" height="830.7" fill="#ebebeb"/>
<line x1="874.5" y1="5" x2="874.5" y2="835.7" stroke="#fff" stroke-width="0.9"/>
<line x1="776" y1="688.64" x2="1404.7" y2="688.64" stroke="#fff" stroke-width="0.9"/>
<line x1="1017.9" y1="5" x2="1017.9" y2="835.7" stroke="#fff" stroke-width="0.9"/>
<line x1="776" y1="507.11" x2="1404.7" y2="507.11" stroke="#fff" stroke-width="0.9"/>
<line x1="1161.3" y1="5" x2="1161.3" y2="835.7" stroke="#fff" stroke-width="0.9"/>
<line x1="776" y1="325.59" x2="1404.7" y2="325.59" stroke="#fff" stroke-width="0.9"/>
<line x1="1304.7" y1="5" x2="1304.7" y2="835.7" stroke="#fff" stroke-width="0.9"/>
<line x1="776" y1="144.06" x2="1404.7" y2="144.06" stroke="#fff" stroke-width="0.9"/>
<line x1="802.8" y1="5" x2="802.8" y2="835.7" stroke="#fff" stroke-width="1.8"/>
<line x1="776" y1="779.4" x2="1404.7" y2="779.4" stroke="#fff" stroke-width="1.8"/>
<line x1="946.2" y1="5" x2="946.2" y2="835.7" stroke="#fff" stroke-width="1.8"/>
<line x1="776" y1="597.88" x2="1404.7" y2="597.88" stroke="#fff" stroke-width="1.8"/>
<line x1="1089.6" y1="5" x2="1089.6" y2="835.7" stroke="#fff" stroke-width="1.8"/>
<line x1="776" y1="416.35" x2="1404.7" y2="416.35" stroke="#fff" stroke-width="1.8"/>
<line x1="1233" y1="5" x2="1233" y2="835.7" stroke="#fff" stroke-width="1.8"/>
<line x1="776" y1="234.82" x2="1404.7" y2="234.82" stroke="#fff" stroke-width="1.8"/>
<line x1="1376.4" y1="5" x2="1376.4" y2="835.7" stroke="#fff" stroke-width="1.8"/>
<line x1="776" y1="53.3" x2="1404.7" y2="53.3" stroke="#fff" stroke-width="1.8"/>
<line x1="802.8" y1="779.4" x2="1376.4" y2="53.3" stroke="#cd853f" stroke-width="3.3"/>
<circle cx="803.4" cy="770.4" r="2" fill="#ff7f0e" fill-opacity="0.85"/>
<circle cx="806.3" cy="763" r="3" fill="#1f77b4" fill-opacity="0.85"/>
<circle cx="804" cy="767.5" r="3" fill="#1f77b4" fill-opacity="0.85"/>
<circle cx="808.3" cy="754" r="2.3" fill="#1f77b4" fill-opacity="0.85"/>
<circle cx="810.8" cy="756.3" r="2" fill="#ff7f0e" fill-opacity="0.85"/>
<circle cx="810.8" cy="747.3" r="2.5" fill="#1f77b4" fill-opacity="0.85"/>
<circle cx="813" cy="745" r="2" fill="#ff7f0e" fill-opacity="0.85"/>
<circle cx="811.9" cy="740" r="2" fill="#1f77b4" fill-opacity="0.85"/>
<circle cx="817.5" cy="718" r="4" fill="#1f77b4" fill-opacity="0.85"/>
<circle cx="819.2" cy="722" r="3.5" fill="#ff7f0e" fill-opacity="0.85"/>
<circle cx="814.1" cy="724.8" r="2.5" fill="#ff7f0e" fill-opacity="0.85"/>
<circle cx="828" cy="692.3" r="4" fill="#1f77b4" fill-opacity="0.85"/>
<circle cx="829.1" cy="696.8" r="3.5" fill="#ff7f0e" fill-opacity="0.85"/>
<circle cx="835.3" cy="682.7" r="4" fill="#1f77b4" fill-opacity="0.85"/>
<circle cx="835.3" cy="688.4" r="4" fill="#ff7f0e" fill-opacity="0.85"/>
<circle cx="837" cy="659.4" r="2.3" fill="#1f77b4" fill-opacity="0.85"/>
<circle cx="839.5" cy="647.8" r="2.3" fill="#1f77b4" fill-opacity="0.85"/>
<circle cx="841.8" cy="641.1" r="2.5" fill="#1f77b4" fill-opacity="0.85"/>
<circle cx="844.8" cy="611.8" r="2.5" fill="#ff7f0e" fill-opacity="0.85"/>
<circle cx="846" cy="614.6" r="4" fill="#1f77b4" fill-opacity="0.85"/>
<circle cx="849.3" cy="613.5" r="3" fill="#1f77b4" fill-opacity="0.85"/>
<circle cx="850.8" cy="607.3" r="2.2" fill="#1f77b4" fill-opacity="0.85"/>
<circle cx="855.1" cy="572.5" r="3.5" fill="#ff7f0e" fill-opacity="0.85"/>
<circle cx="854" cy="579.2" r="3.5" fill="#1f77b4" fill-opacity="0.85"/>
<circle cx="860.8" cy="575.8" r="3" fill="#1f77b4" fill-opacity="0.85"/>
<circle cx="865.3" cy="556.7" r="2.5" fill="#ff7f0e" fill-opacity="0.85"/>
<circle cx="863" cy="560" r="2.5" fill="#ff7f0e" fill-opacity="0.85"/>
<circle cx="865.3" cy="568.5" r="3" fill="#1f77b4" fill-opacity="0.85"/>
<circle cx="878.8" cy="550" r="5" fill="#ff7f0e" fill-opacity="0.85"/>
<circle cx="877.1" cy="558.4" r="5" fill="#1f77b4" fill-opacity="0.85"/>
<circle cx="893.4" cy="523" r="5.5" fill="#1f77b4" fill-opacity="0.85"/>
<circle cx="897.4" cy="507.2" r="5.5" fill="#ff7f0e" fill-opacity="0.85"/>
<circle cx="911" cy="494.3" r="6" fill="#1f77b4" fill-opacity="0.85"/>
<circle cx="915.4" cy="478.5" r="4.5" fill="#ff7f0e" fill-opacity="0.85"/>
<circle cx="912.6" cy="481.3" r="3" fill="#1f77b4" fill-opacity="0.85"/>
<circle cx="914.9" cy="465.6" r="2.5" fill="#ff7f0e" fill-opacity="0.85"/>
<circle cx="916.6" cy="448.7" r="3" fill="#1f77b4" fill-opacity="0.85"/>
<circle cx="921.1" cy="445.9" r="3" fill="#1f77b4" fill-opacity="0.85"/>
<circle cx="927.3" cy="443.1" r="3.5" fill="#ff7f0e" fill-opacity="0.85"/>
<circle cx="927.3" cy="443.1" r="3.5" fill="#1f77b4" fill-opacity="0.85"/>
<circle cx="932.9" cy="439.1" r="3.5" fill="#ff7f0e" fill-opacity="0.85"/>
<circle cx="932.9" cy="439.1" r="3.5" fill="#1f77b4" fill-opacity="0.85"/>
<circle cx="919.4" cy="427.3" r="3" fill="#ff7f0e" fill-opacity="0.85"/>
<circle cx="922.8" cy="425.1" r="3" fill="#ff7f0e" fill-opacity="0.85"/>
<circle cx="926.1" cy="423.9" r="3" fill="#ff7f0e" fill-opacity="0.85"/>
<circle cx="929.5" cy="422.8" r="3" fill="#ff7f0e" fill-opacity="0.85"/>
<circle cx="932.9" cy="421.7" r="3" fill="#ff7f0e" fill-opacity="0.85"/>
<circle cx="936.3" cy="420.6" r="3" fill="#ff7f0e" fill-opacity="0.85"/>
<circle cx="1038.7" cy="375.8" r="12.5" fill="#ff7f0e" fill-opacity="0.85"/>
<circle cx="1038.7" cy="375.8" r="13" fill="#1f77b4" fill-opacity="0.85"/>
<circle cx="1040.5" cy="373.1" r="3" fill="#1f77b4" fill-opacity="0.85"/>
<circle cx="1050.4" cy="368.6" r="4.5" fill="#1f77b4" fill-opacity="0.85"/>
<circle cx="1058.5" cy="362.8" r="4.5" fill="#ff7f0e" fill-opacity="0.85"/>
<circle cx="1059.9" cy="361.4" r="4.5" fill="#1f77b4" fill-opacity="0.85"/>
<circle cx="1067.5" cy="355.6" r="4.5" fill="#ff7f0e" fill-opacity="0.85"/>
<circle cx="1069.3" cy="353.8" r="4.8" fill="#1f77b4" fill-opacity="0.85"/>
<circle cx="1085" cy="342.2" r="4.5" fill="#ff7f0e" fill-opacity="0.85"/>
<circle cx="1084.3" cy="332.3" r="4" fill="#1f77b4" fill-opacity="0.85"/>
<circle cx="1088.7" cy="331.7" r="3.5" fill="#1f77b4" fill-opacity="0.85"/>
<circle cx="1109.1" cy="332.3" r="5" fill="#ff7f0e" fill-opacity="0.85"/>
<circle cx="1108.5" cy="324.2" r="5.5" fill="#1f77b4" fill-opacity="0.85"/>
<circle cx="1112.8" cy="324.2" r="4" fill="#1f77b4" fill-opacity="0.85"/>
<circle cx="1117.7" cy="318.7" r="4" fill="#1f77b4" fill-opacity="0.85"/>
<circle cx="1122.7" cy="316.2" r="3" fill="#1f77b4" fill-opacity="0.85"/>
<circle cx="1129.5" cy="314.3" r="3" fill="#ff7f0e" fill-opacity="0.85"/>
<circle cx="1131" cy="308.8" r="4.5" fill="#1f77b4" fill-opacity="0.85"/>
<circle cx="1137.2" cy="309.4" r="3" fill="#ff7f0e" fill-opacity="0.85"/>
<circle cx="1136.3" cy="302.3" r="3.5" fill="#1f77b4" fill-opacity="0.85"/>
<circle cx="1142.5" cy="305.7" r="3.5" fill="#ff7f0e" fill-opacity="0.85"/>
<circle cx="1142.2" cy="298.2" r="3.5" fill="#1f77b4" fill-opacity="0.85"/>
<circle cx="1149.9" cy="304.2" r="3.5" fill="#ff7f0e" fill-opacity="0.85"/>
<circle cx="1149.9" cy="297.6" r="4" fill="#1f77b4" fill-opacity="0.85"/>
<circle cx="1158.2" cy="299" r="4" fill="#ff7f0e" fill-opacity="0.85"/>
<circle cx="1157.9" cy="291.8" r="4" fill="#1f77b4" fill-opacity="0.85"/>
<circle cx="1262.4" cy="249.4" r="11.5" fill="#ff7f0e" fill-opacity="0.85"/>
<circle cx="1265" cy="243.5" r="11.7" fill="#1f77b4" fill-opacity="0.85"/>
<circle cx="1272.7" cy="232.2" r="2.5" fill="#ff7f0e" fill-opacity="0.85"/>
<circle cx="1274" cy="235.5" r="2.5" fill="#1f77b4" fill-opacity="0.85"/>
<circle cx="1274.9" cy="226.8" r="2" fill="#ff7f0e" fill-opacity="0.85"/>
<circle cx="1277.6" cy="229" r="3" fill="#1f77b4" fill-opacity="0.85"/>
<circle cx="1279" cy="220.5" r="2" fill="#ff7f0e" fill-opacity="0.85"/>
<circle cx="1279" cy="224.1" r="2.5" fill="#1f77b4" fill-opacity="0.85"/>
<circle cx="1284.4" cy="216" r="3.5" fill="#1f77b4" fill-opacity="0.85"/>
<circle cx="1286.6" cy="208.8" r="3" fill="#1f77b4" fill-opacity="0.85"/>
<circle cx="1288.1" cy="197.1" r="2.5" fill="#ff7f0e" fill-opacity="0.85"/>
<circle cx="1289.6" cy="194.1" r="2" fill="#1f77b4" fill-opacity="0.85"/>
<circle cx="1298.7" cy="170.8" r="3.5" fill="#ff7f0e" fill-opacity="0.85"/>
<circle cx="1299.8" cy="177.4" r="3.5" fill="#1f77b4" fill-opacity="0.85"/>
<circle cx="1303.8" cy="161.2" r="3" fill="#ff7f0e" fill-opacity="0.85"/>
<circle cx="1306.8" cy="158.6" r="3" fill="#ff7f0e" fill-opacity="0.85"/>
<circle cx="1306.8" cy="165.7" r="2.8" fill="#1f77b4" fill-opacity="0.85"/>
<circle cx="1304.3" cy="168.3" r="2.5" fill="#1f77b4" fill-opacity="0.85"/>
<circle cx="1312.4" cy="142.4" r="3" fill="#ff7f0e" fill-opacity="0.85"/>
<circle cx="1314.4" cy="140.4" r="3" fill="#ff7f0e" fill-opacity="0.85"/>
<circle cx="1317.5" cy="135.8" r="3" fill="#ff7f0e" fill-opacity="0.85"/>
<circle cx="1313.4" cy="151" r="3.5" fill="#1f77b4" fill-opacity="0.85"/>
<circle cx="1317" cy="146" r="3" fill="#1f77b4" fill-opacity="0.85"/>
<circle cx="1320" cy="141.9" r="2.5" fill="#1f77b4" fill-opacity="0.85"/>
<circle cx="1324.6" cy="124.2" r="3" fill="#ff7f0e" fill-opacity="0.85"/>
<circle cx="1325.1" cy="130.3" r="3.5" fill="#1f77b4" fill-opacity="0.85"/>
<circle cx="1346.2" cy="88.6" r="3.5" fill="#ff7f0e" fill-opacity="0.85"/>
<circle cx="1347.2" cy="93.2" r="4.5" fill="#1f77b4" fill-opacity="0.85"/>
<circle cx="1360.4" cy="88.6" r="3.5" fill="#1f77b4" fill-opacity="0.85"/>
<circle cx="1367.4" cy="81" r="3" fill="#1f77b4" fill-opacity="0.85"/>
<circle cx="1369" cy="77.5" r="3.5" fill="#1f77b4" fill-opacity="0.85"/>
<path d="M806.53,781.07 L806.94,778.68 L807.36,776.29 L807.78,773.89 L808.21,771.5 L808.64,769.11 L809.07,766.72 L809.52,764.33 L809.96,761.94 L810.41,759.55 L810.87,757.16 L811.33,754.77 L811.8,752.38 L812.27,750 L812.75,747.61 L813.23,745.23 L813.72,742.84 L814.21,740.46 L814.71,738.07 L815.22,735.69 L815.72,733.31 L816.24,730.93 L816.76,728.55 L817.28,726.17 L817.81,723.79 L818.35,721.42 L818.89,719.04 L819.43,716.67 L819.98,714.29 L820.54,711.92 L821.1,709.55 L821.67,707.18 L822.24,704.81 L822.81,702.44 L823.4,700.08 L823.98,697.71 L824.58,695.35 L825.18,692.99 L825.78,690.62 L826.39,688.26 L827,685.91 L827.62,683.55 L828.25,681.19 L828.88,678.84 L829.51,676.48 L830.15,674.13 L830.8,671.78 L831.45,669.43 L832.11,667.09 L832.77,664.74 L833.44,662.4 L834.12,660.05 L834.79,657.71 L835.48,655.38 L836.17,653.04 L836.87,650.7 L837.57,648.37 L838.27,646.04 L838.98,643.71 L839.7,641.38 L840.42,639.05 L841.15,636.72 L841.89,634.4 L842.63,632.08 L843.37,629.76 L844.12,627.44 L844.88,625.13 L845.64,622.82 L846.41,620.5 L847.18,618.19 L847.96,615.89 L848.74,613.58 L849.53,611.28 L850.33,608.98 L851.13,606.68 L851.93,604.38 L852.75,602.09 L853.56,599.79 L854.39,597.5 L855.21,595.22 L856.05,592.93 L856.89,590.65 L857.73,588.37 L858.59,586.09 L859.44,583.81 L860.31,581.54 L861.17,579.27 L862.05,577 L862.93,574.73 L863.81,572.47 L864.7,570.21 L865.6,567.95 L866.5,565.69 L867.41,563.44 L868.33,561.19 L869.25,558.94 L870.17,556.69 L871.1,554.45 L872.04,552.21 L872.99,549.98 L873.95,547.75 L874.91,545.53 L875.88,543.3 L876.86,541.09 L877.85,538.88 L878.85,536.67 L879.86,534.47 L880.88,532.27 L881.91,530.08 L882.95,527.89 L884,525.71 L885.06,523.54 L886.14,521.37 L887.22,519.21 L888.32,517.05 L889.44,514.9 L890.56,512.76 L891.7,510.62 L892.85,508.5 L894.02,506.37 L895.2,504.26 L896.39,502.15 L897.6,500.06 L898.83,497.97 L900.07,495.88 L901.33,493.81 L902.6,491.75 L903.89,489.7 L905.2,487.66 L906.52,485.63 L907.86,483.62 L909.22,481.62 L910.59,479.63 L911.99,477.66 L913.4,475.71 L914.82,473.77 L916.27,471.85 L917.74,469.95 L919.22,468.06 L920.72,466.2 L922.25,464.35 L923.79,462.53 L925.35,460.73 L926.93,458.94 L928.53,457.17 L930.15,455.42 L931.79,453.69 L933.45,451.98 L935.12,450.28 L936.82,448.6 L938.52,446.93 L940.25,445.28 L941.99,443.64 L943.74,442.01 L945.51,440.4 L947.3,438.81 L949.1,437.22 L950.91,435.65 L952.73,434.09 L954.57,432.54 L956.42,431 L958.28,429.47 L960.15,427.95 L962.03,426.44 L963.92,424.94 L965.82,423.45 L967.73,421.96 L969.65,420.49 L971.58,419.02 L973.52,417.55 L975.46,416.1 L977.41,414.64 L979.36,413.2 L981.33,411.75 L983.29,410.32 L985.26,408.88 L987.24,407.45 L989.22,406.02 L991.2,404.6 L993.19,403.18 L995.18,401.75 L997.17,400.33 L999.16,398.91 L1001.15,397.49 L1003.15,396.07 L1005.14,394.65 L1007.13,393.23 L1009.13,391.81 L1011.12,390.39 L1013.11,388.97 L1015.1,387.55 L1017.09,386.14 L1019.08,384.72 L1021.07,383.31 L1023.06,381.91 L1025.05,380.5 L1027.04,379.1 L1029.03,377.7 L1031.03,376.3 L1033.02,374.91 L1035.02,373.52 L1037.02,372.14 L1039.02,370.76 L1041.02,369.38 L1043.03,368.01 L1045.04,366.65 L1047.05,365.29 L1049.06,363.94 L1051.07,362.59 L1053.09,361.25 L1055.12,359.91 L1057.14,358.59 L1059.17,357.27 L1061.2,355.96 L1063.24,354.66 L1065.27,353.37 L1067.32,352.09 L1069.36,350.83 L1071.42,349.58 L1073.48,348.35 L1075.54,347.13 L1077.61,345.94 L1079.69,344.76 L1081.78,343.6 L1083.88,342.46 L1085.98,341.34 L1088.1,340.24 L1090.23,339.16 L1092.37,338.09 L1094.52,337.04 L1096.68,336 L1098.85,334.98 L1101.03,333.97 L1103.22,332.98 L1105.41,332 L1107.61,331.03 L1109.82,330.07 L1112.04,329.12 L1114.27,328.18 L1116.5,327.25 L1118.74,326.33 L1120.98,325.41 L1123.23,324.51 L1125.48,323.6 L1127.74,322.7 L1130.01,321.81 L1132.27,320.92 L1134.55,320.03 L1136.82,319.15 L1139.1,318.26 L1141.38,317.38 L1143.66,316.5 L1145.94,315.61 L1148.23,314.73 L1150.52,313.84 L1152.8,312.94 L1155.09,312.05 L1157.38,311.15 L1159.67,310.24 L1161.95,309.33 L1164.24,308.4 L1166.52,307.47 L1168.8,306.53 L1171.07,305.58 L1173.34,304.62 L1175.6,303.64 L1177.86,302.65 L1180.12,301.65 L1182.36,300.63 L1184.6,299.6 L1186.83,298.54 L1189.06,297.47 L1191.27,296.38 L1193.47,295.28 L1195.66,294.15 L1197.84,292.99 L1200.01,291.82 L1202.17,290.62 L1204.31,289.4 L1206.44,288.15 L1208.55,286.87 L1210.65,285.57 L1212.73,284.24 L1214.79,282.88 L1216.84,281.49 L1218.87,280.07 L1220.88,278.62 L1222.86,277.13 L1224.83,275.61 L1226.77,274.07 L1228.69,272.49 L1230.59,270.89 L1232.47,269.27 L1234.32,267.62 L1236.16,265.95 L1237.98,264.26 L1239.78,262.55 L1241.57,260.83 L1243.34,259.08 L1245.09,257.33 L1246.83,255.55 L1248.56,253.77 L1250.27,251.97 L1251.97,250.17 L1253.66,248.35 L1255.34,246.53 L1257.01,244.7 L1258.68,242.87 L1260.33,241.03 L1261.98,239.19 L1263.62,237.36 L1265.26,235.52 L1266.89,233.68 L1268.52,231.83 L1270.14,229.99 L1271.76,228.14 L1273.37,226.28 L1274.98,224.43 L1276.58,222.57 L1278.18,220.7 L1279.76,218.83 L1281.34,216.96 L1282.91,215.07 L1284.47,213.19 L1286.02,211.29 L1287.56,209.39 L1289.09,207.48 L1290.61,205.56 L1292.11,203.64 L1293.61,201.7 L1295.09,199.76 L1296.55,197.81 L1298.01,195.84 L1299.45,193.87 L1300.87,191.88 L1302.28,189.89 L1303.67,187.88 L1305.05,185.87 L1306.41,183.84 L1307.76,181.81 L1309.09,179.77 L1310.41,177.72 L1311.72,175.66 L1313.02,173.6 L1314.31,171.53 L1315.59,169.45 L1316.86,167.37 L1318.12,165.28 L1319.37,163.19 L1320.62,161.09 L1321.86,158.99 L1323.1,156.89 L1324.33,154.78 L1325.56,152.67 L1326.78,150.56 L1328,148.45 L1329.22,146.33 L1330.44,144.22 L1331.66,142.1 L1332.88,139.99 L1334.11,137.87 L1335.33,135.76 L1336.55,133.65 L1337.78,131.54 L1339.02,129.43 L1340.26,127.32 L1341.5,125.21 L1342.74,123.11 L1343.98,121 L1345.23,118.9 L1346.48,116.79 L1347.72,114.69 L1348.97,112.58 L1350.21,110.47 L1351.45,108.36 L1352.69,106.25 L1353.93,104.14 L1355.16,102.02 L1356.38,99.9 L1357.6,97.78 L1358.81,95.65 L1360.01,93.52 L1361.2,91.38 L1362.39,89.24 L1363.57,87.1 L1364.73,84.94 L1365.88,82.79 L1367.03,80.62 L1368.16,78.45 L1369.27,76.27 L1370.37,74.08 L1371.46,71.89 L1372.53,69.69 L1373.59,67.47 L1374.63,65.25 L1375.65,63.02 L1376.65,60.78 L1377.63,58.52 L1378.6,56.26 L1379.54,53.98 L1374.82,52.2 L1374.01,54.47 L1373.18,56.73 L1372.32,58.99 L1371.44,61.23 L1370.54,63.47 L1369.61,65.69 L1368.66,67.91 L1367.69,70.12 L1366.7,72.33 L1365.69,74.52 L1364.66,76.71 L1363.61,78.9 L1362.54,81.07 L1361.46,83.24 L1360.36,85.4 L1359.25,87.56 L1358.12,89.71 L1356.98,91.85 L1355.82,93.99 L1354.66,96.13 L1353.48,98.26 L1352.29,100.39 L1351.09,102.51 L1349.89,104.63 L1348.67,106.75 L1347.45,108.86 L1346.22,110.97 L1344.99,113.08 L1343.75,115.18 L1342.51,117.29 L1341.26,119.39 L1340.01,121.49 L1338.76,123.59 L1337.51,125.69 L1336.25,127.79 L1335,129.89 L1333.75,132 L1332.5,134.1 L1331.25,136.19 L1330,138.29 L1328.74,140.39 L1327.49,142.48 L1326.23,144.57 L1324.97,146.66 L1323.71,148.74 L1322.44,150.82 L1321.17,152.89 L1319.9,154.96 L1318.61,157.02 L1317.32,159.08 L1316.03,161.13 L1314.72,163.17 L1313.41,165.21 L1312.09,167.23 L1310.76,169.25 L1309.42,171.26 L1308.07,173.26 L1306.71,175.26 L1305.33,177.24 L1303.95,179.21 L1302.55,181.17 L1301.13,183.11 L1299.71,185.05 L1298.27,186.97 L1296.81,188.88 L1295.34,190.78 L1293.85,192.67 L1292.35,194.54 L1290.83,196.41 L1289.3,198.26 L1287.75,200.11 L1286.19,201.95 L1284.63,203.78 L1283.04,205.61 L1281.45,207.42 L1279.85,209.24 L1278.23,211.04 L1276.61,212.84 L1274.98,214.63 L1273.34,216.42 L1271.69,218.21 L1270.03,219.99 L1268.37,221.77 L1266.7,223.55 L1265.03,225.33 L1263.35,227.1 L1261.66,228.88 L1259.97,230.65 L1258.28,232.43 L1256.58,234.2 L1254.88,235.97 L1253.18,237.74 L1251.48,239.5 L1249.77,241.25 L1248.06,242.99 L1246.34,244.73 L1244.61,246.45 L1242.88,248.16 L1241.15,249.86 L1239.4,251.54 L1237.65,253.21 L1235.88,254.86 L1234.11,256.49 L1232.33,258.1 L1230.53,259.68 L1228.73,261.25 L1226.91,262.79 L1225.08,264.31 L1223.24,265.81 L1221.38,267.27 L1219.51,268.71 L1217.62,270.11 L1215.72,271.49 L1213.79,272.84 L1211.85,274.17 L1209.89,275.46 L1207.91,276.74 L1205.92,277.98 L1203.9,279.21 L1201.87,280.41 L1199.83,281.59 L1197.76,282.75 L1195.69,283.89 L1193.6,285.01 L1191.49,286.11 L1189.37,287.19 L1187.24,288.26 L1185.09,289.31 L1182.93,290.34 L1180.77,291.36 L1178.59,292.37 L1176.39,293.36 L1174.19,294.34 L1171.98,295.31 L1169.77,296.27 L1167.54,297.21 L1165.31,298.15 L1163.06,299.08 L1160.82,300 L1158.56,300.92 L1156.3,301.83 L1154.04,302.73 L1151.77,303.63 L1149.5,304.53 L1147.23,305.42 L1144.95,306.31 L1142.67,307.2 L1140.39,308.09 L1138.11,308.98 L1135.83,309.87 L1133.55,310.76 L1131.27,311.65 L1128.99,312.55 L1126.71,313.45 L1124.43,314.36 L1122.15,315.27 L1119.87,316.19 L1117.6,317.11 L1115.33,318.04 L1113.06,318.98 L1110.8,319.93 L1108.54,320.89 L1106.28,321.87 L1104.03,322.85 L1101.78,323.85 L1099.54,324.85 L1097.3,325.88 L1095.07,326.92 L1092.85,327.97 L1090.64,329.04 L1088.43,330.13 L1086.23,331.23 L1084.03,332.36 L1081.85,333.5 L1079.67,334.66 L1077.51,335.85 L1075.35,337.06 L1073.21,338.28 L1071.08,339.52 L1068.96,340.78 L1066.86,342.05 L1064.76,343.34 L1062.67,344.64 L1060.59,345.95 L1058.52,347.27 L1056.45,348.6 L1054.4,349.94 L1052.35,351.29 L1050.31,352.64 L1048.27,354 L1046.24,355.37 L1044.21,356.74 L1042.18,358.12 L1040.16,359.5 L1038.14,360.89 L1036.13,362.29 L1034.12,363.68 L1032.11,365.09 L1030.11,366.49 L1028.11,367.91 L1026.11,369.32 L1024.12,370.74 L1022.12,372.16 L1020.13,373.59 L1018.14,375.01 L1016.16,376.44 L1014.17,377.88 L1012.19,379.31 L1010.21,380.75 L1008.23,382.19 L1006.25,383.63 L1004.27,385.07 L1002.29,386.51 L1000.31,387.95 L998.33,389.39 L996.36,390.83 L994.38,392.28 L992.4,393.72 L990.42,395.17 L988.44,396.62 L986.46,398.08 L984.49,399.54 L982.51,401 L980.54,402.46 L978.57,403.93 L976.61,405.41 L974.65,406.89 L972.69,408.38 L970.74,409.88 L968.8,411.38 L966.86,412.89 L964.93,414.41 L963,415.94 L961.09,417.48 L959.18,419.02 L957.28,420.58 L955.39,422.15 L953.5,423.72 L951.63,425.31 L949.77,426.91 L947.93,428.53 L946.09,430.15 L944.26,431.79 L942.45,433.45 L940.65,435.11 L938.87,436.8 L937.1,438.49 L935.34,440.21 L933.61,441.94 L931.88,443.68 L930.17,445.44 L928.48,447.22 L926.81,449.02 L925.16,450.83 L923.52,452.67 L921.91,454.52 L920.31,456.4 L918.73,458.29 L917.18,460.2 L915.64,462.14 L914.13,464.09 L912.64,466.06 L911.17,468.04 L909.72,470.05 L908.3,472.07 L906.89,474.1 L905.5,476.15 L904.14,478.21 L902.79,480.29 L901.46,482.37 L900.15,484.47 L898.86,486.58 L897.59,488.7 L896.33,490.83 L895.1,492.96 L893.88,495.11 L892.67,497.26 L891.49,499.42 L890.32,501.58 L889.16,503.75 L888.03,505.93 L886.9,508.11 L885.79,510.3 L884.7,512.5 L883.62,514.7 L882.55,516.9 L881.5,519.11 L880.46,521.33 L879.43,523.55 L878.41,525.78 L877.41,528.01 L876.42,530.24 L875.44,532.48 L874.46,534.73 L873.5,536.97 L872.55,539.22 L871.61,541.48 L870.68,543.74 L869.76,546 L868.84,548.26 L867.94,550.53 L867.04,552.8 L866.14,555.07 L865.26,557.35 L864.38,559.63 L863.51,561.91 L862.65,564.19 L861.79,566.47 L860.93,568.76 L860.08,571.05 L859.24,573.34 L858.4,575.63 L857.57,577.93 L856.74,580.22 L855.92,582.52 L855.11,584.82 L854.3,587.13 L853.5,589.43 L852.7,591.74 L851.9,594.05 L851.12,596.36 L850.34,598.67 L849.56,600.99 L848.79,603.31 L848.02,605.63 L847.26,607.95 L846.51,610.27 L845.76,612.59 L845.01,614.92 L844.27,617.25 L843.54,619.58 L842.81,621.91 L842.09,624.24 L841.37,626.58 L840.66,628.91 L839.95,631.25 L839.25,633.59 L838.55,635.93 L837.86,638.27 L837.17,640.62 L836.49,642.96 L835.81,645.31 L835.14,647.66 L834.48,650.01 L833.82,652.36 L833.16,654.71 L832.51,657.07 L831.86,659.42 L831.22,661.78 L830.58,664.14 L829.95,666.5 L829.33,668.86 L828.7,671.22 L828.09,673.58 L827.48,675.95 L826.87,678.31 L826.27,680.68 L825.67,683.04 L825.08,685.41 L824.49,687.78 L823.91,690.15 L823.33,692.53 L822.75,694.9 L822.18,697.27 L821.62,699.65 L821.06,702.02 L820.51,704.4 L819.96,706.78 L819.41,709.16 L818.87,711.54 L818.33,713.92 L817.8,716.3 L817.27,718.68 L816.75,721.06 L816.23,723.45 L815.72,725.83 L815.21,728.22 L814.71,730.6 L814.2,732.99 L813.71,735.38 L813.22,737.76 L812.73,740.15 L812.25,742.54 L811.77,744.93 L811.3,747.32 L810.83,749.71 L810.36,752.1 L809.9,754.49 L809.44,756.89 L808.99,759.28 L808.54,761.67 L808.1,764.06 L807.66,766.46 L807.22,768.85 L806.79,771.25 L806.36,773.64 L805.94,776.04 L805.52,778.43 L805.11,780.83Z" fill="#1f77b4" fill-opacity="0.64"/>
<path d="M805.34,797.49 L805.8,795.01 L806.25,792.54 L806.69,790.07 L807.13,787.59 L807.57,785.12 L808,782.65 L808.43,780.17 L808.85,777.7 L809.28,775.23 L809.7,772.75 L810.13,770.28 L810.55,767.81 L810.98,765.34 L811.4,762.86 L811.83,760.39 L812.27,757.92 L812.71,755.45 L813.15,752.98 L813.6,750.51 L814.06,748.05 L814.52,745.58 L814.99,743.11 L815.46,740.65 L815.94,738.18 L816.43,735.72 L816.92,733.26 L817.42,730.8 L817.93,728.34 L818.44,725.88 L818.96,723.43 L819.49,720.97 L820.02,718.51 L820.55,716.06 L821.1,713.61 L821.64,711.16 L822.2,708.71 L822.76,706.26 L823.33,703.81 L823.9,701.36 L824.48,698.92 L825.06,696.47 L825.66,694.03 L826.25,691.59 L826.85,689.14 L827.46,686.71 L828.08,684.27 L828.7,681.83 L829.32,679.39 L829.95,676.96 L830.59,674.53 L831.23,672.09 L831.87,669.66 L832.53,667.23 L833.18,664.8 L833.84,662.38 L834.51,659.95 L835.18,657.53 L835.86,655.1 L836.54,652.68 L837.23,650.26 L837.92,647.84 L838.62,645.42 L839.32,643.01 L840.02,640.59 L840.73,638.18 L841.45,635.76 L842.16,633.35 L842.89,630.94 L843.62,628.53 L844.35,626.12 L845.08,623.72 L845.82,621.31 L846.57,618.91 L847.31,616.51 L848.07,614.11 L848.82,611.71 L849.58,609.31 L850.34,606.91 L851.11,604.52 L851.88,602.12 L852.66,599.73 L853.43,597.34 L854.22,594.95 L855,592.56 L855.79,590.17 L856.58,587.78 L857.37,585.4 L858.17,583.02 L858.98,580.64 L859.78,578.26 L860.59,575.88 L861.41,573.51 L862.23,571.14 L863.06,568.77 L863.9,566.4 L864.74,564.04 L865.59,561.68 L866.44,559.33 L867.3,556.97 L868.18,554.62 L869.06,552.28 L869.94,549.94 L870.84,547.6 L871.75,545.27 L872.66,542.94 L873.59,540.61 L874.53,538.3 L875.48,535.98 L876.43,533.67 L877.41,531.36 L878.39,529.06 L879.38,526.77 L880.39,524.48 L881.41,522.2 L882.44,519.92 L883.49,517.65 L884.55,515.38 L885.63,513.12 L886.72,510.87 L887.82,508.62 L888.94,506.38 L890.07,504.15 L891.22,501.93 L892.38,499.71 L893.56,497.5 L894.75,495.31 L895.96,493.12 L897.19,490.94 L898.43,488.78 L899.68,486.62 L900.95,484.47 L902.24,482.34 L903.55,480.21 L904.87,478.1 L906.21,476 L907.56,473.92 L908.93,471.84 L910.32,469.78 L911.72,467.73 L913.14,465.7 L914.58,463.67 L916.04,461.66 L917.51,459.66 L918.99,457.68 L920.5,455.71 L922.01,453.75 L923.55,451.81 L925.1,449.88 L926.67,447.96 L928.25,446.06 L929.85,444.18 L931.46,442.3 L933.09,440.45 L934.74,438.6 L936.4,436.78 L938.07,434.96 L939.77,433.17 L941.47,431.38 L943.19,429.62 L944.93,427.87 L946.68,426.13 L948.45,424.41 L950.23,422.71 L952.03,421.02 L953.84,419.35 L955.67,417.69 L957.51,416.06 L959.37,414.43 L961.24,412.83 L963.13,411.24 L965.03,409.67 L966.95,408.12 L968.88,406.58 L970.82,405.06 L972.78,403.56 L974.76,402.07 L976.75,400.61 L978.75,399.15 L980.77,397.72 L982.8,396.3 L984.84,394.89 L986.9,393.5 L988.96,392.13 L991.04,390.77 L993.14,389.42 L995.24,388.09 L997.36,386.78 L999.48,385.48 L1001.62,384.19 L1003.77,382.92 L1005.92,381.67 L1008.09,380.42 L1010.26,379.19 L1012.45,377.98 L1014.64,376.77 L1016.84,375.58 L1019.05,374.41 L1021.27,373.24 L1023.49,372.09 L1025.72,370.95 L1027.95,369.83 L1030.2,368.71 L1032.44,367.61 L1034.7,366.52 L1036.95,365.44 L1039.22,364.38 L1041.48,363.32 L1043.75,362.28 L1046.03,361.25 L1048.3,360.23 L1050.59,359.22 L1052.87,358.22 L1055.16,357.24 L1057.46,356.27 L1059.76,355.31 L1062.06,354.36 L1064.37,353.42 L1066.68,352.5 L1069,351.58 L1071.32,350.68 L1073.64,349.8 L1075.97,348.92 L1078.3,348.05 L1080.64,347.2 L1082.98,346.36 L1085.33,345.53 L1087.68,344.71 L1090.04,343.91 L1092.41,343.11 L1094.78,342.31 L1097.15,341.53 L1099.53,340.75 L1101.91,339.98 L1104.29,339.21 L1106.68,338.45 L1109.08,337.69 L1111.47,336.93 L1113.87,336.17 L1116.27,335.42 L1118.67,334.66 L1121.08,333.91 L1123.48,333.15 L1125.89,332.39 L1128.3,331.63 L1130.71,330.86 L1133.12,330.09 L1135.53,329.31 L1137.94,328.52 L1140.35,327.73 L1142.76,326.93 L1145.17,326.12 L1147.58,325.3 L1149.99,324.47 L1152.4,323.63 L1154.8,322.78 L1157.2,321.91 L1159.6,321.03 L1162,320.14 L1164.39,319.23 L1166.77,318.3 L1169.15,317.36 L1171.53,316.4 L1173.9,315.42 L1176.26,314.42 L1178.61,313.4 L1180.95,312.36 L1183.28,311.3 L1185.61,310.22 L1187.92,309.11 L1190.23,307.98 L1192.52,306.83 L1194.79,305.65 L1197.06,304.44 L1199.31,303.21 L1201.54,301.95 L1203.77,300.66 L1205.97,299.35 L1208.16,298 L1210.32,296.63 L1212.47,295.22 L1214.6,293.78 L1216.71,292.31 L1218.8,290.81 L1220.87,289.27 L1222.91,287.7 L1224.93,286.1 L1226.92,284.47 L1228.88,282.81 L1230.82,281.12 L1232.74,279.4 L1234.62,277.65 L1236.49,275.88 L1238.33,274.09 L1240.15,272.27 L1241.94,270.43 L1243.72,268.58 L1245.47,266.7 L1247.2,264.8 L1248.91,262.89 L1250.6,260.96 L1252.27,259.01 L1253.92,257.05 L1255.55,255.08 L1257.17,253.09 L1258.76,251.1 L1260.35,249.09 L1261.91,247.07 L1263.46,245.05 L1265,243.01 L1266.53,240.97 L1268.04,238.92 L1269.53,236.86 L1271.02,234.8 L1272.49,232.73 L1273.95,230.65 L1275.39,228.57 L1276.83,226.47 L1278.25,224.37 L1279.67,222.27 L1281.07,220.16 L1282.46,218.04 L1283.85,215.92 L1285.22,213.79 L1286.58,211.65 L1287.94,209.51 L1289.28,207.36 L1290.62,205.21 L1291.95,203.05 L1293.27,200.89 L1294.58,198.72 L1295.89,196.55 L1297.18,194.38 L1298.47,192.2 L1299.76,190.01 L1301.03,187.83 L1302.3,185.64 L1303.57,183.44 L1304.83,181.25 L1306.09,179.05 L1307.34,176.85 L1308.6,174.65 L1309.85,172.45 L1311.1,170.25 L1312.35,168.05 L1313.59,165.85 L1314.84,163.66 L1316.1,161.46 L1317.35,159.27 L1318.61,157.07 L1319.87,154.89 L1321.13,152.7 L1322.4,150.52 L1323.67,148.34 L1324.95,146.17 L1326.24,144.01 L1327.53,141.85 L1328.83,139.69 L1330.14,137.54 L1331.46,135.4 L1332.79,133.27 L1334.13,131.15 L1335.48,129.03 L1336.84,126.92 L1338.21,124.82 L1339.59,122.72 L1340.97,120.62 L1342.35,118.52 L1343.74,116.43 L1345.13,114.33 L1346.51,112.24 L1347.9,110.14 L1349.28,108.04 L1350.65,105.94 L1352.02,103.83 L1353.39,101.71 L1354.74,99.59 L1356.08,97.46 L1357.4,95.32 L1358.72,93.17 L1360.02,91.01 L1361.29,88.84 L1362.56,86.65 L1363.79,84.45 L1365.01,82.24 L1366.2,80.01 L1367.37,77.77 L1368.51,75.51 L1369.62,73.23 L1370.7,70.94 L1371.74,68.62 L1372.74,66.29 L1373.7,63.94 L1374.62,61.56 L1375.5,59.17 L1376.33,56.75 L1377.1,54.31 L1377.82,51.85 L1378.49,49.37 L1379.1,46.87 L1376.39,45.77 L1375.07,47.95 L1373.77,50.11 L1372.48,52.28 L1371.21,54.43 L1369.94,56.59 L1368.68,58.74 L1367.43,60.89 L1366.19,63.05 L1364.95,65.2 L1363.71,67.35 L1362.48,69.5 L1361.25,71.65 L1360.03,73.8 L1358.8,75.96 L1357.58,78.11 L1356.35,80.27 L1355.13,82.43 L1353.9,84.59 L1352.68,86.75 L1351.45,88.91 L1350.23,91.08 L1349,93.25 L1347.77,95.42 L1346.54,97.59 L1345.31,99.77 L1344.08,101.95 L1342.85,104.13 L1341.62,106.31 L1340.39,108.49 L1339.16,110.68 L1337.92,112.87 L1336.69,115.06 L1335.45,117.25 L1334.22,119.45 L1332.98,121.64 L1331.74,123.84 L1330.5,126.04 L1329.27,128.24 L1328.03,130.44 L1326.79,132.64 L1325.55,134.84 L1324.31,137.04 L1323.07,139.24 L1321.82,141.44 L1320.58,143.64 L1319.34,145.84 L1318.09,148.04 L1316.84,150.24 L1315.59,152.44 L1314.34,154.63 L1313.08,156.82 L1311.83,159.02 L1310.57,161.21 L1309.3,163.39 L1308.04,165.58 L1306.77,167.76 L1305.49,169.94 L1304.22,172.12 L1302.94,174.29 L1301.65,176.47 L1300.36,178.63 L1299.07,180.8 L1297.77,182.96 L1296.47,185.12 L1295.16,187.27 L1293.85,189.42 L1292.53,191.56 L1291.21,193.7 L1289.88,195.83 L1288.54,197.96 L1287.2,200.08 L1285.84,202.2 L1284.48,204.3 L1283.11,206.4 L1281.73,208.49 L1280.34,210.58 L1278.93,212.65 L1277.52,214.72 L1276.09,216.77 L1274.65,218.81 L1273.2,220.85 L1271.73,222.87 L1270.25,224.88 L1268.75,226.88 L1267.24,228.86 L1265.71,230.83 L1264.16,232.79 L1262.6,234.73 L1261.02,236.66 L1259.42,238.57 L1257.81,240.47 L1256.17,242.35 L1254.52,244.22 L1252.85,246.06 L1251.16,247.89 L1249.46,249.7 L1247.74,251.49 L1246,253.26 L1244.24,255.01 L1242.47,256.75 L1240.69,258.46 L1238.89,260.15 L1237.07,261.82 L1235.24,263.47 L1233.39,265.1 L1231.54,266.7 L1229.66,268.28 L1227.78,269.84 L1225.88,271.38 L1223.96,272.9 L1222.04,274.39 L1220.1,275.86 L1218.15,277.3 L1216.18,278.72 L1214.21,280.12 L1212.21,281.5 L1210.21,282.86 L1208.18,284.19 L1206.14,285.51 L1204.09,286.81 L1202.03,288.09 L1199.94,289.34 L1197.85,290.58 L1195.74,291.81 L1193.62,293.01 L1191.48,294.19 L1189.33,295.36 L1187.17,296.51 L1184.99,297.65 L1182.81,298.76 L1180.61,299.86 L1178.39,300.95 L1176.17,302.02 L1173.94,303.07 L1171.69,304.11 L1169.44,305.13 L1167.17,306.13 L1164.9,307.13 L1162.62,308.1 L1160.33,309.06 L1158.03,310.01 L1155.72,310.95 L1153.4,311.87 L1151.08,312.77 L1148.75,313.66 L1146.42,314.54 L1144.08,315.41 L1141.73,316.27 L1139.38,317.11 L1137.02,317.95 L1134.66,318.77 L1132.29,319.59 L1129.92,320.4 L1127.54,321.2 L1125.17,322 L1122.78,322.79 L1120.4,323.58 L1118.01,324.36 L1115.62,325.15 L1113.23,325.93 L1110.84,326.71 L1108.44,327.49 L1106.05,328.27 L1103.65,329.06 L1101.25,329.84 L1098.85,330.63 L1096.46,331.43 L1094.06,332.23 L1091.66,333.03 L1089.27,333.85 L1086.88,334.67 L1084.48,335.5 L1082.09,336.34 L1079.7,337.19 L1077.32,338.05 L1074.94,338.93 L1072.56,339.81 L1070.19,340.71 L1067.82,341.62 L1065.45,342.54 L1063.09,343.47 L1060.74,344.41 L1058.39,345.37 L1056.04,346.33 L1053.69,347.31 L1051.35,348.3 L1049.02,349.3 L1046.69,350.32 L1044.36,351.34 L1042.04,352.38 L1039.72,353.43 L1037.4,354.49 L1035.09,355.56 L1032.78,356.65 L1030.48,357.75 L1028.18,358.86 L1025.89,359.98 L1023.6,361.12 L1021.31,362.27 L1019.03,363.43 L1016.76,364.61 L1014.49,365.8 L1012.23,367.01 L1009.98,368.23 L1007.73,369.46 L1005.5,370.71 L1003.27,371.98 L1001.05,373.26 L998.83,374.56 L996.63,375.87 L994.44,377.2 L992.26,378.54 L990.09,379.91 L987.92,381.28 L985.78,382.68 L983.64,384.09 L981.51,385.53 L979.4,386.97 L977.3,388.44 L975.21,389.93 L973.14,391.43 L971.09,392.95 L969.04,394.49 L967.01,396.06 L965,397.64 L963.01,399.24 L961.03,400.85 L959.07,402.49 L957.12,404.15 L955.19,405.82 L953.28,407.52 L951.39,409.23 L949.51,410.96 L947.65,412.7 L945.81,414.47 L943.99,416.25 L942.18,418.05 L940.4,419.86 L938.62,421.69 L936.87,423.54 L935.14,425.4 L933.42,427.28 L931.72,429.18 L930.03,431.09 L928.37,433.02 L926.72,434.96 L925.09,436.91 L923.48,438.88 L921.89,440.87 L920.32,442.87 L918.76,444.88 L917.22,446.91 L915.7,448.95 L914.2,451.01 L912.71,453.08 L911.25,455.16 L909.8,457.25 L908.37,459.36 L906.96,461.48 L905.56,463.61 L904.19,465.75 L902.83,467.91 L901.49,470.08 L900.17,472.26 L898.87,474.45 L897.59,476.65 L896.32,478.86 L895.08,481.08 L893.85,483.32 L892.64,485.56 L891.44,487.81 L890.27,490.07 L889.11,492.33 L887.96,494.61 L886.84,496.89 L885.73,499.18 L884.63,501.48 L883.56,503.78 L882.49,506.09 L881.45,508.4 L880.41,510.72 L879.4,513.05 L878.39,515.38 L877.41,517.71 L876.43,520.05 L875.47,522.39 L874.53,524.74 L873.59,527.09 L872.67,529.44 L871.76,531.8 L870.86,534.16 L869.98,536.52 L869.1,538.89 L868.24,541.26 L867.38,543.63 L866.54,546.01 L865.7,548.39 L864.87,550.77 L864.05,553.15 L863.24,555.54 L862.43,557.92 L861.64,560.31 L860.85,562.7 L860.06,565.1 L859.28,567.49 L858.51,569.89 L857.74,572.29 L856.98,574.69 L856.22,577.09 L855.46,579.49 L854.71,581.89 L853.96,584.3 L853.21,586.7 L852.46,589.11 L851.72,591.51 L850.98,593.92 L850.24,596.33 L849.5,598.73 L848.77,601.14 L848.03,603.55 L847.3,605.96 L846.57,608.38 L845.85,610.79 L845.12,613.2 L844.4,615.62 L843.68,618.03 L842.96,620.45 L842.25,622.87 L841.54,625.28 L840.83,627.7 L840.13,630.12 L839.42,632.55 L838.72,634.97 L838.03,637.39 L837.33,639.81 L836.64,642.24 L835.96,644.66 L835.27,647.09 L834.59,649.52 L833.92,651.95 L833.25,654.38 L832.58,656.81 L831.91,659.24 L831.25,661.67 L830.59,664.1 L829.94,666.54 L829.29,668.97 L828.65,671.41 L828,673.85 L827.37,676.29 L826.74,678.73 L826.11,681.17 L825.48,683.61 L824.86,686.05 L824.25,688.5 L823.64,690.94 L823.03,693.39 L822.43,695.83 L821.84,698.28 L821.25,700.73 L820.66,703.18 L820.08,705.63 L819.51,708.09 L818.94,710.54 L818.37,712.99 L817.82,715.45 L817.26,717.91 L816.72,720.37 L816.18,722.83 L815.64,725.29 L815.11,727.75 L814.59,730.21 L814.07,732.68 L813.56,735.14 L813.06,737.61 L812.56,740.08 L812.07,742.55 L811.59,745.02 L811.12,747.49 L810.65,749.97 L810.19,752.44 L809.74,754.92 L809.29,757.39 L808.86,759.87 L808.43,762.36 L808.02,764.84 L807.62,767.33 L807.23,769.81 L806.86,772.3 L806.5,774.79 L806.16,777.29 L805.83,779.79 L805.52,782.28 L805.23,784.79 L804.96,787.29 L804.71,789.79 L804.48,792.3 L804.27,794.81 L804.09,797.33Z" fill="#ff7f0e" fill-opacity="0.58"/>
<path d="M805.82,780.95 L806.23,778.56 L806.65,776.16 L807.07,773.77 L807.5,771.37 L807.93,768.98 L808.37,766.59 L808.81,764.2 L809.25,761.8 L809.7,759.41 L810.16,757.02 L810.62,754.63 L811.08,752.24 L811.55,749.85 L812.02,747.47 L812.5,745.08 L812.98,742.69 L813.47,740.3 L813.96,737.92 L814.46,735.53 L814.96,733.15 L815.47,730.77 L815.98,728.38 L816.5,726 L817.02,723.62 L817.55,721.24 L818.08,718.86 L818.62,716.48 L819.16,714.11 L819.7,711.73 L820.25,709.35 L820.81,706.98 L821.37,704.61 L821.94,702.23 L822.51,699.86 L823.08,697.49 L823.67,695.12 L824.25,692.76 L824.84,690.39 L825.44,688.02 L826.04,685.66 L826.65,683.3 L827.26,680.93 L827.87,678.57 L828.49,676.21 L829.12,673.86 L829.75,671.5 L830.39,669.14 L831.03,666.79 L831.68,664.44 L832.33,662.09 L832.99,659.74 L833.65,657.39 L834.32,655.04 L834.99,652.7 L835.67,650.35 L836.35,648.01 L837.04,645.67 L837.74,643.33 L838.44,641 L839.14,638.66 L839.85,636.33 L840.57,634 L841.29,631.66 L842.01,629.34 L842.75,627.01 L843.48,624.68 L844.23,622.36 L844.97,620.04 L845.73,617.72 L846.49,615.4 L847.25,613.09 L848.02,610.77 L848.79,608.46 L849.57,606.15 L850.36,603.84 L851.15,601.54 L851.95,599.23 L852.75,596.93 L853.56,594.63 L854.37,592.34 L855.19,590.04 L856.02,587.75 L856.85,585.46 L857.68,583.17 L858.52,580.88 L859.37,578.6 L860.22,576.31 L861.08,574.03 L861.95,571.76 L862.82,569.48 L863.69,567.21 L864.57,564.94 L865.46,562.67 L866.35,560.41 L867.25,558.14 L868.16,555.88 L869.07,553.63 L869.99,551.37 L870.92,549.12 L871.85,546.87 L872.8,544.63 L873.75,542.39 L874.71,540.16 L875.68,537.92 L876.66,535.7 L877.65,533.47 L878.65,531.26 L879.66,529.04 L880.68,526.83 L881.72,524.63 L882.76,522.43 L883.82,520.24 L884.89,518.05 L885.97,515.87 L887.07,513.7 L888.18,511.53 L889.3,509.37 L890.44,507.21 L891.59,505.06 L892.76,502.92 L893.94,500.79 L895.14,498.66 L896.35,496.54 L897.58,494.42 L898.83,492.32 L900.1,490.22 L901.38,488.14 L902.67,486.07 L903.99,484 L905.33,481.95 L906.68,479.91 L908.05,477.89 L909.44,475.88 L910.85,473.89 L912.27,471.91 L913.72,469.95 L915.19,468 L916.68,466.08 L918.18,464.17 L919.71,462.28 L921.26,460.41 L922.83,458.56 L924.42,456.73 L926.03,454.92 L927.66,453.13 L929.3,451.36 L930.97,449.6 L932.65,447.86 L934.35,446.14 L936.06,444.43 L937.8,442.74 L939.54,441.07 L941.31,439.4 L943.08,437.76 L944.87,436.13 L946.68,434.51 L948.5,432.9 L950.33,431.31 L952.17,429.73 L954.03,428.16 L955.89,426.6 L957.77,425.05 L959.65,423.51 L961.55,421.98 L963.45,420.46 L965.37,418.95 L967.29,417.45 L969.22,415.95 L971.16,414.47 L973.1,412.99 L975.05,411.51 L977.01,410.05 L978.97,408.58 L980.93,407.13 L982.9,405.67 L984.88,404.22 L986.85,402.78 L988.83,401.34 L990.81,399.9 L992.8,398.46 L994.78,397.03 L996.77,395.6 L998.76,394.16 L1000.74,392.73 L1002.73,391.3 L1004.71,389.87 L1006.7,388.44 L1008.68,387.01 L1010.67,385.58 L1012.65,384.15 L1014.64,382.72 L1016.62,381.3 L1018.61,379.88 L1020.6,378.46 L1022.59,377.04 L1024.58,375.63 L1026.58,374.22 L1028.57,372.81 L1030.57,371.41 L1032.57,370.01 L1034.57,368.61 L1036.57,367.22 L1038.58,365.83 L1040.59,364.45 L1042.6,363.08 L1044.61,361.7 L1046.63,360.34 L1048.65,358.98 L1050.68,357.63 L1052.71,356.28 L1054.75,354.94 L1056.78,353.61 L1058.83,352.28 L1060.88,350.96 L1062.93,349.66 L1064.99,348.37 L1067.06,347.08 L1069.14,345.82 L1071.22,344.56 L1073.31,343.33 L1075.41,342.11 L1077.52,340.91 L1079.64,339.72 L1081.78,338.56 L1083.92,337.42 L1086.07,336.3 L1088.23,335.19 L1090.4,334.11 L1092.58,333.04 L1094.77,331.99 L1096.96,330.95 L1099.17,329.93 L1101.38,328.92 L1103.6,327.92 L1105.82,326.94 L1108.05,325.97 L1110.29,325.01 L1112.53,324.06 L1114.78,323.12 L1117.03,322.19 L1119.29,321.26 L1121.55,320.35 L1123.82,319.44 L1126.09,318.53 L1128.36,317.63 L1130.63,316.74 L1132.91,315.84 L1135.18,314.95 L1137.46,314.07 L1139.75,313.18 L1142.03,312.29 L1144.31,311.41 L1146.59,310.52 L1148.87,309.63 L1151.15,308.74 L1153.43,307.84 L1155.71,306.94 L1157.99,306.03 L1160.26,305.12 L1162.53,304.2 L1164.79,303.28 L1167.05,302.34 L1169.3,301.4 L1171.55,300.44 L1173.79,299.48 L1176.03,298.5 L1178.26,297.5 L1180.47,296.5 L1182.68,295.48 L1184.88,294.44 L1187.07,293.39 L1189.25,292.32 L1191.42,291.23 L1193.58,290.13 L1195.72,289 L1197.85,287.85 L1199.97,286.69 L1202.07,285.49 L1204.15,284.28 L1206.23,283.04 L1208.28,281.78 L1210.32,280.49 L1212.34,279.17 L1214.35,277.83 L1216.33,276.46 L1218.3,275.05 L1220.24,273.62 L1222.17,272.16 L1224.08,270.67 L1225.96,269.15 L1227.84,267.6 L1229.69,266.03 L1231.53,264.44 L1233.35,262.82 L1235.15,261.18 L1236.95,259.52 L1238.73,257.84 L1240.49,256.15 L1242.25,254.43 L1243.99,252.71 L1245.72,250.96 L1247.44,249.21 L1249.16,247.45 L1250.86,245.67 L1252.56,243.89 L1254.25,242.1 L1255.93,240.3 L1257.61,238.5 L1259.28,236.7 L1260.95,234.89 L1262.61,233.08 L1264.27,231.28 L1265.93,229.47 L1267.58,227.66 L1269.23,225.84 L1270.87,224.03 L1272.51,222.21 L1274.14,220.39 L1275.76,218.56 L1277.37,216.73 L1278.98,214.9 L1280.57,213.06 L1282.16,211.21 L1283.74,209.36 L1285.3,207.5 L1286.86,205.63 L1288.4,203.76 L1289.93,201.88 L1291.45,199.98 L1292.96,198.08 L1294.45,196.17 L1295.93,194.25 L1297.39,192.32 L1298.84,190.38 L1300.27,188.43 L1301.69,186.47 L1303.09,184.49 L1304.48,182.5 L1305.85,180.51 L1307.21,178.5 L1308.56,176.49 L1309.9,174.46 L1311.22,172.43 L1312.53,170.39 L1313.84,168.34 L1315.13,166.29 L1316.42,164.23 L1317.7,162.16 L1318.97,160.09 L1320.24,158.01 L1321.5,155.92 L1322.75,153.84 L1324,151.74 L1325.25,149.65 L1326.49,147.55 L1327.73,145.45 L1328.97,143.35 L1330.2,141.24 L1331.44,139.14 L1332.68,137.03 L1333.91,134.93 L1335.15,132.82 L1336.39,130.72 L1337.64,128.61 L1338.88,126.51 L1340.13,124.4 L1341.38,122.3 L1342.62,120.2 L1343.87,118.09 L1345.12,115.99 L1346.36,113.88 L1347.6,111.77 L1348.83,109.67 L1350.06,107.55 L1351.29,105.44 L1352.51,103.32 L1353.72,101.2 L1354.93,99.08 L1356.13,96.95 L1357.32,94.82 L1358.49,92.69 L1359.66,90.55 L1360.82,88.4 L1361.96,86.25 L1363.09,84.09 L1364.21,81.93 L1365.32,79.76 L1366.41,77.58 L1367.48,75.4 L1368.54,73.21 L1369.58,71.01 L1370.6,68.8 L1371.6,66.58 L1372.58,64.36 L1373.54,62.12 L1374.49,59.88 L1375.41,57.63 L1376.3,55.36 L1377.18,53.09" fill="none" stroke="#1f77b4" stroke-width="1.0"/>
<path d="M804.71,797.41 L805.04,794.91 L805.37,792.42 L805.7,789.93 L806.05,787.44 L806.4,784.95 L806.76,782.47 L807.13,779.98 L807.51,777.49 L807.89,775.01 L808.28,772.53 L808.68,770.05 L809.08,767.57 L809.5,765.09 L809.92,762.61 L810.35,760.13 L810.78,757.66 L811.22,755.18 L811.67,752.71 L812.12,750.24 L812.59,747.77 L813.06,745.3 L813.53,742.83 L814.01,740.36 L814.5,737.9 L815,735.43 L815.5,732.97 L816.01,730.51 L816.52,728.04 L817.04,725.58 L817.57,723.13 L818.1,720.67 L818.64,718.21 L819.18,715.76 L819.74,713.3 L820.29,710.85 L820.85,708.4 L821.42,705.94 L822,703.49 L822.57,701.05 L823.16,698.6 L823.75,696.15 L824.34,693.71 L824.95,691.26 L825.55,688.82 L826.16,686.38 L826.78,683.94 L827.4,681.5 L828.03,679.06 L828.66,676.62 L829.3,674.19 L829.94,671.75 L830.58,669.32 L831.23,666.89 L831.89,664.45 L832.55,662.02 L833.21,659.59 L833.88,657.17 L834.55,654.74 L835.23,652.31 L835.91,649.89 L836.6,647.47 L837.29,645.04 L837.98,642.62 L838.68,640.2 L839.38,637.78 L840.08,635.37 L840.79,632.95 L841.51,630.53 L842.22,628.12 L842.94,625.7 L843.67,623.29 L844.39,620.88 L845.12,618.47 L845.86,616.06 L846.59,613.65 L847.33,611.25 L848.08,608.84 L848.82,606.44 L849.57,604.03 L850.32,601.63 L851.08,599.23 L851.84,596.83 L852.6,594.43 L853.36,592.03 L854.13,589.64 L854.89,587.24 L855.67,584.85 L856.44,582.45 L857.22,580.06 L858,577.67 L858.78,575.28 L859.58,572.9 L860.37,570.51 L861.17,568.13 L861.98,565.75 L862.79,563.37 L863.61,561 L864.44,558.62 L865.27,556.25 L866.11,553.89 L866.96,551.52 L867.82,549.16 L868.69,546.8 L869.56,544.45 L870.45,542.1 L871.35,539.75 L872.25,537.41 L873.17,535.07 L874.1,532.73 L875.04,530.4 L875.99,528.08 L876.95,525.75 L877.93,523.44 L878.92,521.12 L879.93,518.81 L880.94,516.51 L881.97,514.21 L883.02,511.92 L884.08,509.63 L885.16,507.35 L886.25,505.08 L887.35,502.81 L888.47,500.55 L889.61,498.3 L890.76,496.06 L891.93,493.82 L893.11,491.59 L894.31,489.37 L895.53,487.17 L896.76,484.97 L898.01,482.78 L899.28,480.6 L900.57,478.43 L901.87,476.28 L903.19,474.13 L904.53,472 L905.88,469.88 L907.25,467.77 L908.64,465.67 L910.05,463.59 L911.48,461.52 L912.92,459.46 L914.38,457.41 L915.85,455.38 L917.35,453.36 L918.86,451.35 L920.38,449.36 L921.93,447.38 L923.49,445.42 L925.07,443.47 L926.67,441.53 L928.28,439.61 L929.91,437.7 L931.55,435.81 L933.22,433.93 L934.9,432.07 L936.59,430.22 L938.3,428.39 L940.03,426.58 L941.78,424.78 L943.54,423 L945.32,421.23 L947.11,419.48 L948.92,417.74 L950.75,416.03 L952.59,414.33 L954.45,412.64 L956.33,410.98 L958.22,409.33 L960.13,407.69 L962.05,406.08 L963.99,404.49 L965.94,402.91 L967.91,401.35 L969.9,399.81 L971.9,398.28 L973.92,396.78 L975.95,395.29 L977.99,393.82 L980.05,392.37 L982.12,390.93 L984.2,389.51 L986.3,388.11 L988.41,386.72 L990.53,385.35 L992.66,384 L994.81,382.66 L996.96,381.34 L999.13,380.03 L1001.3,378.74 L1003.48,377.46 L1005.68,376.2 L1007.88,374.95 L1010.09,373.72 L1012.31,372.5 L1014.54,371.3 L1016.77,370.1 L1019.01,368.93 L1021.26,367.76 L1023.52,366.61 L1025.78,365.47 L1028.04,364.35 L1030.31,363.23 L1032.59,362.13 L1034.87,361.05 L1037.15,359.97 L1039.44,358.91 L1041.73,357.85 L1044.03,356.81 L1046.33,355.78 L1048.64,354.77 L1050.95,353.76 L1053.26,352.77 L1055.58,351.79 L1057.9,350.82 L1060.22,349.86 L1062.55,348.92 L1064.89,347.98 L1067.22,347.06 L1069.57,346.15 L1071.91,345.25 L1074.26,344.37 L1076.62,343.49 L1078.98,342.63 L1081.34,341.78 L1083.71,340.94 L1086.08,340.11 L1088.46,339.29 L1090.84,338.48 L1093.22,337.67 L1095.6,336.88 L1097.99,336.09 L1100.38,335.31 L1102.77,334.53 L1105.17,333.75 L1107.56,332.98 L1109.96,332.21 L1112.35,331.44 L1114.75,330.67 L1117.15,329.9 L1119.54,329.14 L1121.94,328.36 L1124.34,327.59 L1126.73,326.81 L1129.13,326.03 L1131.52,325.24 L1133.91,324.45 L1136.3,323.65 L1138.69,322.84 L1141.07,322.02 L1143.45,321.19 L1145.83,320.36 L1148.2,319.51 L1150.57,318.65 L1152.94,317.78 L1155.3,316.89 L1157.66,315.99 L1160.01,315.07 L1162.36,314.15 L1164.7,313.2 L1167.03,312.24 L1169.35,311.27 L1171.67,310.27 L1173.97,309.26 L1176.27,308.23 L1178.56,307.19 L1180.84,306.12 L1183.11,305.04 L1185.36,303.94 L1187.61,302.81 L1189.84,301.67 L1192.06,300.5 L1194.27,299.32 L1196.46,298.11 L1198.64,296.88 L1200.81,295.62 L1202.96,294.35 L1205.09,293.04 L1207.21,291.72 L1209.31,290.37 L1211.39,288.99 L1213.46,287.58 L1215.51,286.16 L1217.54,284.7 L1219.55,283.21 L1221.54,281.7 L1223.51,280.16 L1225.46,278.6 L1227.39,277.01 L1229.31,275.39 L1231.2,273.75 L1233.08,272.08 L1234.93,270.39 L1236.77,268.68 L1238.59,266.95 L1240.39,265.2 L1242.18,263.42 L1243.94,261.63 L1245.69,259.82 L1247.42,257.99 L1249.13,256.14 L1250.83,254.27 L1252.5,252.39 L1254.16,250.49 L1255.81,248.58 L1257.43,246.65 L1259.04,244.71 L1260.64,242.76 L1262.21,240.79 L1263.77,238.82 L1265.32,236.83 L1266.85,234.83 L1268.36,232.82 L1269.86,230.8 L1271.35,228.76 L1272.82,226.72 L1274.28,224.67 L1275.72,222.61 L1277.16,220.54 L1278.58,218.46 L1279.99,216.38 L1281.39,214.28 L1282.78,212.18 L1284.16,210.07 L1285.52,207.96 L1286.88,205.83 L1288.23,203.7 L1289.57,201.57 L1290.91,199.43 L1292.23,197.28 L1293.55,195.13 L1294.86,192.97 L1296.16,190.81 L1297.46,188.64 L1298.75,186.47 L1300.04,184.3 L1301.32,182.12 L1302.6,179.94 L1303.87,177.76 L1305.14,175.57 L1306.41,173.39 L1307.67,171.2 L1308.93,169.01 L1310.19,166.82 L1311.45,164.62 L1312.7,162.43 L1313.96,160.24 L1315.22,158.04 L1316.47,155.85 L1317.73,153.66 L1318.98,151.47 L1320.24,149.28 L1321.5,147.09 L1322.77,144.91 L1324.03,142.73 L1325.3,140.54 L1326.57,138.37 L1327.85,136.19 L1329.13,134.02 L1330.41,131.86 L1331.7,129.69 L1332.99,127.53 L1334.29,125.38 L1335.6,123.23 L1336.9,121.08 L1338.21,118.94 L1339.52,116.79 L1340.83,114.65 L1342.14,112.51 L1343.45,110.37 L1344.76,108.23 L1346.07,106.09 L1347.37,103.94 L1348.67,101.8 L1349.96,99.65 L1351.25,97.51 L1352.54,95.36 L1353.82,93.2 L1355.09,91.04 L1356.35,88.88 L1357.6,86.71 L1358.84,84.54 L1360.07,82.36 L1361.29,80.18 L1362.5,77.99 L1363.7,75.79 L1364.88,73.58 L1366.05,71.37 L1367.2,69.14 L1368.34,66.91 L1369.46,64.67 L1370.57,62.42 L1371.65,60.15 L1372.72,57.88 L1373.77,55.59 L1374.79,53.29 L1375.8,50.98 L1376.78,48.66 L1377.74,46.32" fill="none" stroke="#ff7f0e" stroke-width="1.0"/>
<text x="1038.3" y="395.6" font-family="Liberation Sans, Arial, sans-serif" font-size="16" fill="#ff7f0e">India</text>
<text x="1039.3" y="395.3" font-family="Liberation Sans, Arial, sans-serif" font-size="16" fill="#1f77b4" fill-opacity="0.9">India</text>
<text x="1259.5" y="269.1" font-family="Liberation Sans, Arial, sans-serif" font-size="16" fill="#ff7f0e">China</text>
<text x="1264.6" y="264" font-family="Liberation Sans, Arial, sans-serif" font-size="16" fill="#1f77b4">China</text>
<line x1="802.3" y1="779.3" x2="1378.3" y2="779.3" stroke="#000" stroke-width="4.2"/>
<line x1="1376.2" y1="52.2" x2="1376.2" y2="781.4" stroke="#000" stroke-width="4.4"/>
<text x="1232.75" y="535" font-family="Liberation Sans, Arial, sans-serif" font-size="25.4" fill="#000" text-anchor="middle">Concentration Index</text>
<text x="1232.75" y="569.1" font-family="Liberation Sans, Arial, sans-serif" font-size="19.9" fill="#1f77b4" text-anchor="middle">Male: −0.17(95%CI −0.27, −0.07)</text>
<text x="1232.4" y="605.2" font-family="Liberation Sans, Arial, sans-serif" font-size="19.9" fill="#ff7f0e" text-anchor="middle">Female: −0.18(95%CI −0.29, −0.06)</text>
<line x1="771.6" y1="779.4" x2="776" y2="779.4" stroke="#333" stroke-width="2"/>
<text x="766.2" y="785.3" font-family="Liberation Sans, Arial, sans-serif" font-size="16.5" fill="#3a3a3a" text-anchor="end">0.00</text>
<line x1="802.8" y1="835.7" x2="802.8" y2="840.7" stroke="#333" stroke-width="2"/>
<text x="802.8" y="856.9" font-family="Liberation Sans, Arial, sans-serif" font-size="16.5" fill="#3a3a3a" text-anchor="middle">0.00</text>
<line x1="771.6" y1="597.88" x2="776" y2="597.88" stroke="#333" stroke-width="2"/>
<text x="766.2" y="603.77" font-family="Liberation Sans, Arial, sans-serif" font-size="16.5" fill="#3a3a3a" text-anchor="end">0.25</text>
<line x1="946.2" y1="835.7" x2="946.2" y2="840.7" stroke="#333" stroke-width="2"/>
<text x="946.2" y="856.9" font-family="Liberation Sans, Arial, sans-serif" font-size="16.5" fill="#3a3a3a" text-anchor="middle">0.25</text>
<line x1="771.6" y1="416.35" x2="776" y2="416.35" stroke="#333" stroke-width="2"/>
<text x="766.2" y="422.25" font-family="Liberation Sans, Arial, sans-serif" font-size="16.5" fill="#3a3a3a" text-anchor="end">0.50</text>
<line x1="1089.6" y1="835.7" x2="1089.6" y2="840.7" stroke="#333" stroke-width="2"/>
<text x="1089.6" y="856.9" font-family="Liberation Sans, Arial, sans-serif" font-size="16.5" fill="#3a3a3a" text-anchor="middle">0.50</text>
<line x1="771.6" y1="234.82" x2="776" y2="234.82" stroke="#333" stroke-width="2"/>
<text x="766.2" y="240.72" font-family="Liberation Sans, Arial, sans-serif" font-size="16.5" fill="#3a3a3a" text-anchor="end">0.75</text>
<line x1="1233" y1="835.7" x2="1233" y2="840.7" stroke="#333" stroke-width="2"/>
<text x="1233" y="856.9" font-family="Liberation Sans, Arial, sans-serif" font-size="16.5" fill="#3a3a3a" text-anchor="middle">0.75</text>
<line x1="771.6" y1="53.3" x2="776" y2="53.3" stroke="#333" stroke-width="2"/>
<text x="766.2" y="59.2" font-family="Liberation Sans, Arial, sans-serif" font-size="16.5" fill="#3a3a3a" text-anchor="end">1.00</text>
<line x1="1376.4" y1="835.7" x2="1376.4" y2="840.7" stroke="#333" stroke-width="2"/>
<text x="1376.4" y="856.9" font-family="Liberation Sans, Arial, sans-serif" font-size="16.5" fill="#3a3a3a" text-anchor="middle">1.00</text>
<text x="1089.5" y="879.7" font-family="Liberation Sans, Arial, sans-serif" font-size="20" fill="#000" text-anchor="middle">Cumulative fraction of population ranked by SDI</text>
<text transform="translate(725.3,420.5) rotate(-90)" x="0" y="0" font-family="Liberation Sans, Arial, sans-serif" font-size="19.85" fill="#000" text-anchor="middle">Cumulative fraction of Deaths</text>
<text x="1434.8" y="298.5" font-family="Liberation Sans, Arial, sans-serif" font-size="20.2" fill="#000">group</text>
<rect x="1435.1" y="310.3" width="31.9" height="31.7" fill="#1f77b4" fill-opacity="0.68"/>
<rect x="1435.1" y="342" width="31.9" height="31.7" fill="#ff7f0e" fill-opacity="0.62"/>
<line x1="1438.6" y1="326.3" x2="1463.4" y2="326.3" stroke="#1f77b4" stroke-width="0.9"/>
<circle cx="1451" cy="326.3" r="3.9" fill="#1f77b4" fill-opacity="0.85"/>
<line x1="1438.6" y1="358" x2="1463.4" y2="358" stroke="#ff7f0e" stroke-width="0.9"/>
<circle cx="1451" cy="358" r="3.9" fill="#ff7f0e" fill-opacity="0.85"/>
<text x="1475.7" y="332.3" font-family="Liberation Sans, Arial, sans-serif" font-size="16.4" fill="#000">Male</text>
<text x="1475.7" y="363.7" font-family="Liberation Sans, Arial, sans-serif" font-size="16.4" fill="#000">Female</text>
<text x="1434.6" y="429.3" font-family="Liberation Sans, Arial, sans-serif" font-size="19.9" fill="#000">Population</text>
<text x="1435.6" y="451.4" font-family="Liberation Sans, Arial, sans-serif" font-size="19.9" fill="#000">*1e+06</text>
<rect x="1434.9" y="464" width="32" height="95.3" fill="#ebebeb"/>
<circle cx="1451" cy="479.7" r="6.7" fill="none" stroke="#262626" stroke-width="1.3"/>
<text x="1475.7" y="486" font-family="Liberation Sans, Arial, sans-serif" font-size="16.4" fill="#000">200</text>
<circle cx="1451" cy="511.2" r="9.4" fill="none" stroke="#262626" stroke-width="1.3"/>
<text x="1475.7" y="517.3" font-family="Liberation Sans, Arial, sans-serif" font-size="16.4" fill="#000">400</text>
<circle cx="1451" cy="542.7" r="11.2" fill="none" stroke="#262626" stroke-width="1.3"/>
<text x="1475.7" y="548.6" font-family="Liberation Sans, Arial, sans-serif" font-size="16.4" fill="#000">600</text>
</svg>
</body></html>
